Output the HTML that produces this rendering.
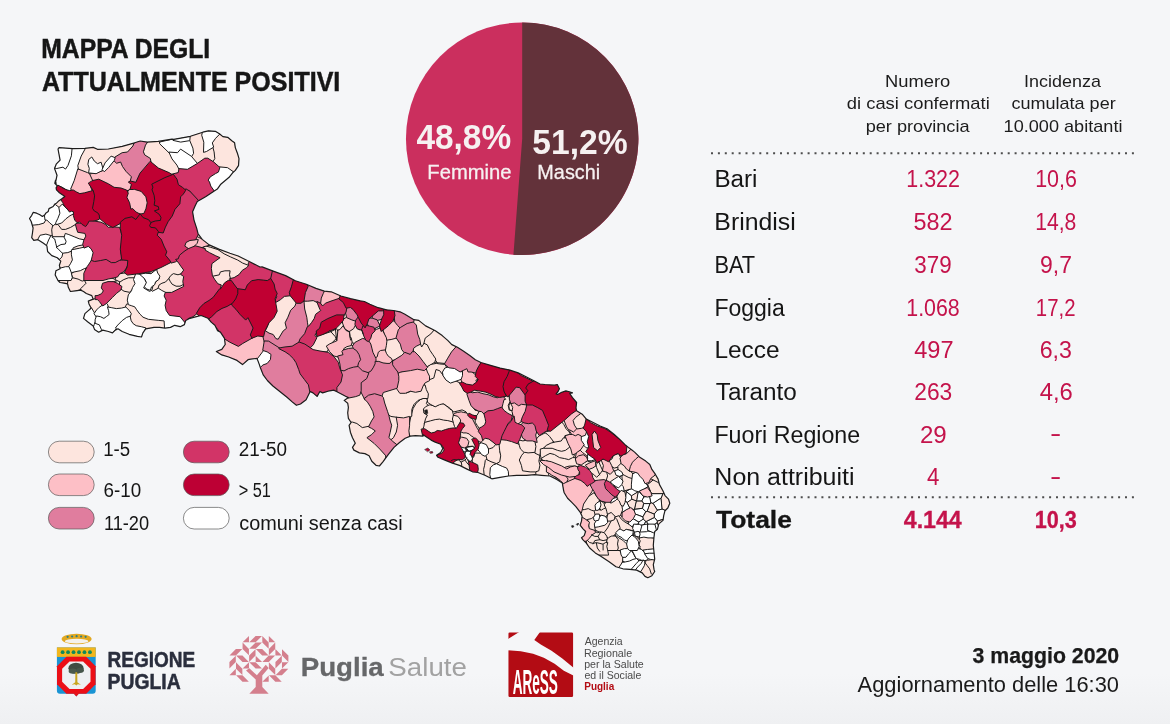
<!DOCTYPE html>
<html lang="it"><head><meta charset="utf-8"><title>Mappa degli attualmente positivi</title>
<style>
html,body{margin:0;padding:0;background:#f5f6f8;}
body{width:1170px;height:724px;overflow:hidden;font-family:"Liberation Sans",sans-serif;}
svg{display:block;font-family:"Liberation Sans",sans-serif;}
text{white-space:pre;}
</style></head><body>
<svg width="1170" height="724" viewBox="0 0 1170 724">
<defs><linearGradient id="bg" x1="0" y1="0" x2="0" y2="1"><stop offset="0" stop-color="#f5f6f8"/><stop offset="0.93" stop-color="#f5f6f8"/><stop offset="1" stop-color="#eff0f2"/></linearGradient></defs>
<rect width="1170" height="724" fill="url(#bg)"/>
<g id="mappa">
<g id="map" stroke-linejoin="round" stroke-linecap="round">
<clipPath id="coast"><path d="M59.1,147.6 L72.5,148.6 L84.9,148.3 L93.2,147.4 L97.4,149.3 L108.4,149.0 L122.2,146.3 L134.7,142.8 L140.2,141.0 L147.1,142.1 L158.2,141.4 L172.0,139.1 L173.8,139.3 L190.4,136.3 L202.8,132.2 L208.4,130.8 L215.3,131.3 L219.4,133.8 L222.9,136.6 L227.7,137.3 L231.8,140.7 L234.6,142.8 L235.3,147.6 L237.4,153.2 L239.0,158.7 L238.5,165.6 L235.3,170.4 L233.2,172.2 L229.1,177.3 L220.8,184.2 L217.3,189.1 L213.9,191.2 L205.6,196.7 L197.3,201.5 L195.3,205.6 L192.6,211.8 L194.0,220.1 L196.7,228.4 L198.1,233.9 L202.2,239.4 L209.2,244.9 L218.8,249.1 L229.9,253.2 L238.2,256.0 L249.2,261.5 L260.0,267.0 L262.1,266.9 L273.2,271.1 L285.6,275.6 L295.3,280.8 L306.3,284.2 L316.0,288.4 L324.3,291.1 L331.2,291.8 L340.9,296.0 L350.5,298.7 L360.2,300.8 L364.4,301.5 L369.9,304.2 L378.2,307.7 L386.5,309.8 L393.4,310.5 L400.0,311.8 L404.9,314.2 L413.9,319.7 L418.7,320.4 L425.6,325.9 L435.3,330.8 L442.2,335.6 L447.7,340.4 L451.8,344.6 L457.4,347.3 L462.9,350.8 L469.8,355.6 L475.3,359.8 L480.9,362.5 L490.5,365.3 L500.2,368.1 L509.9,370.1 L518.2,372.9 L526.5,377.0 L533.4,380.5 L540.0,384.0 L544.9,384.5 L554.5,385.2 L557.3,384.5 L559.4,388.7 L558.1,391.5 L556.1,393.9 L557.6,394.5 L561.7,392.3 L565.9,390.9 L568.4,391.5 L572.5,392.8 L569.7,393.5 L572.5,397.7 L576.6,402.5 L576.0,408.0 L576.6,410.8 L582.2,414.2 L586.3,419.1 L593.2,422.5 L600.1,426.0 L607.0,428.8 L614.0,434.3 L619.5,439.1 L625.7,445.3 L629.2,448.1 L631.9,450.0 L634.6,452.1 L639.4,456.9 L645.7,461.1 L649.8,464.5 L651.9,469.4 L655.3,474.2 L658.1,479.1 L659.5,484.6 L662.9,490.8 L665.0,495.6 L668.5,499.1 L669.8,503.2 L667.8,508.0 L665.0,510.7 L663.7,515.6 L663.0,520.4 L658.8,523.9 L657.4,529.4 L654.7,531.5 L654.0,537.0 L653.3,545.3 L654.0,552.2 L654.7,559.1 L653.3,564.6 L654.0,569.4 L654.7,571.5 L651.9,575.7 L647.8,577.7 L645.0,576.4 L642.2,572.9 L636.7,570.1 L629.8,569.4 L622.9,568.8 L616.0,566.7 L609.1,561.8 L600.8,556.3 L595.3,552.9 L589.7,548.0 L586.3,543.2 L582.8,539.7 L581.5,537.7 L584.2,535.6 L585.6,531.5 L582.8,528.7 L580.1,525.2 L581.5,521.1 L582.1,516.3 L580.1,512.1 L575.9,506.6 L571.8,502.4 L567.6,498.3 L564.2,492.8 L563.5,490.0 L562.3,482.9 L556.8,479.4 L549.9,476.0 L541.6,475.3 L534.7,474.6 L526.4,475.3 L516.7,475.3 L508.4,476.0 L500.1,477.4 L491.8,478.8 L484.9,475.3 L478.0,472.5 L472.5,471.8 L467.0,469.1 L460.1,465.6 L451.8,462.9 L444.9,460.1 L438.0,457.3 L436.6,455.3 L440.7,452.5 L442.8,448.4 L440.7,444.2 L435.2,442.1 L431.1,440.1 L426.9,437.3 L422.8,434.5 L423.0,436.1 L415.5,435.6 L410.4,436.1 L405.2,438.2 L399.5,442.5 L394.0,447.4 L388.4,454.3 L382.9,461.9 L379.4,466.0 L376.0,465.3 L371.8,461.2 L369.1,455.7 L364.9,453.6 L359.4,452.9 L353.9,450.1 L352.5,447.4 L355.3,443.2 L352.5,437.7 L350.4,432.2 L349.1,425.3 L351.1,422.5 L348.4,418.4 L347.7,412.8 L348.4,407.3 L347.7,403.2 L344.2,400.4 L348.4,397.6 L345.6,396.3 L336.5,391.5 L333.7,390.1 L329.6,390.8 L322.6,392.9 L319.9,391.5 L317.1,396.4 L313.0,392.9 L310.2,391.5 L308.8,394.3 L306.1,399.8 L300.5,404.0 L296.4,405.3 L292.2,401.9 L286.7,397.0 L279.8,391.5 L272.9,386.0 L267.4,380.5 L263.2,374.9 L260.5,368.0 L259.1,363.9 L257.0,358.4 L250.8,359.1 L248.0,359.7 L242.5,364.6 L237.0,360.4 L228.7,357.0 L221.8,354.9 L216.3,351.5 L221.8,349.4 L225.2,344.5 L224.5,338.3 L220.4,332.1 L217.6,330.7 L214.9,325.2 L211.4,322.4 L208.0,318.3 L201.1,315.5 L195.5,316.9 L190.0,318.3 L185.7,320.5 L184.4,324.6 L180.2,326.7 L174.7,325.3 L170.5,327.4 L165.0,328.1 L159.5,327.4 L154.0,327.4 L145.7,328.8 L142.9,332.9 L141.5,337.0 L137.4,336.4 L129.1,334.3 L122.2,331.5 L118.0,328.8 L115.3,330.1 L112.5,332.9 L108.4,331.5 L102.8,330.1 L98.7,332.2 L94.5,329.4 L93.2,326.0 L87.6,321.8 L83.5,318.4 L84.9,313.6 L89.7,309.4 L91.1,308.0 L89.0,303.9 L88.3,301.1 L93.2,299.1 L91.8,295.6 L86.3,293.5 L83.5,291.5 L80.7,290.1 L75.2,290.8 L70.4,291.5 L68.3,287.3 L67.6,283.9 L64.1,283.2 L60.0,282.5 L58.0,280.5 L55.2,274.9 L55.9,270.8 L60.1,268.7 L59.4,265.3 L60.8,261.1 L57.3,257.7 L51.8,255.6 L47.6,251.5 L46.9,245.9 L43.5,243.2 L38.0,239.7 L33.8,240.4 L31.7,237.6 L32.4,233.5 L33.1,228.0 L31.2,221.5 L29.5,218.5 L31.6,215.6 L33.3,212.3 L36.6,213.2 L39.9,214.8 L42.4,216.5 L44.9,214.8 L45.7,213.2 L48.2,211.5 L49.0,208.6 L53.2,206.5 L54.8,204.0 L56.5,203.2 L59.0,200.7 L61.5,199.1 L64.8,196.6 L63.1,195.3 L59.0,192.4 L56.5,189.9 L56.1,187.9 L57.3,185.8 L54.8,183.3 L55.6,180.0 L56.2,184.9 L55.6,182.2 L57.0,175.3 L54.5,168.4 L56.2,164.2 L60.1,160.1 L58.0,149.0Z"/></clipPath>
<path d="M59.1,147.6 L72.5,148.6 L84.9,148.3 L93.2,147.4 L97.4,149.3 L108.4,149.0 L122.2,146.3 L134.7,142.8 L140.2,141.0 L147.1,142.1 L158.2,141.4 L172.0,139.1 L173.8,139.3 L190.4,136.3 L202.8,132.2 L208.4,130.8 L215.3,131.3 L219.4,133.8 L222.9,136.6 L227.7,137.3 L231.8,140.7 L234.6,142.8 L235.3,147.6 L237.4,153.2 L239.0,158.7 L238.5,165.6 L235.3,170.4 L233.2,172.2 L229.1,177.3 L220.8,184.2 L217.3,189.1 L213.9,191.2 L205.6,196.7 L197.3,201.5 L195.3,205.6 L192.6,211.8 L194.0,220.1 L196.7,228.4 L198.1,233.9 L202.2,239.4 L209.2,244.9 L218.8,249.1 L229.9,253.2 L238.2,256.0 L249.2,261.5 L260.0,267.0 L262.1,266.9 L273.2,271.1 L285.6,275.6 L295.3,280.8 L306.3,284.2 L316.0,288.4 L324.3,291.1 L331.2,291.8 L340.9,296.0 L350.5,298.7 L360.2,300.8 L364.4,301.5 L369.9,304.2 L378.2,307.7 L386.5,309.8 L393.4,310.5 L400.0,311.8 L404.9,314.2 L413.9,319.7 L418.7,320.4 L425.6,325.9 L435.3,330.8 L442.2,335.6 L447.7,340.4 L451.8,344.6 L457.4,347.3 L462.9,350.8 L469.8,355.6 L475.3,359.8 L480.9,362.5 L490.5,365.3 L500.2,368.1 L509.9,370.1 L518.2,372.9 L526.5,377.0 L533.4,380.5 L540.0,384.0 L544.9,384.5 L554.5,385.2 L557.3,384.5 L559.4,388.7 L558.1,391.5 L556.1,393.9 L557.6,394.5 L561.7,392.3 L565.9,390.9 L568.4,391.5 L572.5,392.8 L569.7,393.5 L572.5,397.7 L576.6,402.5 L576.0,408.0 L576.6,410.8 L582.2,414.2 L586.3,419.1 L593.2,422.5 L600.1,426.0 L607.0,428.8 L614.0,434.3 L619.5,439.1 L625.7,445.3 L629.2,448.1 L631.9,450.0 L634.6,452.1 L639.4,456.9 L645.7,461.1 L649.8,464.5 L651.9,469.4 L655.3,474.2 L658.1,479.1 L659.5,484.6 L662.9,490.8 L665.0,495.6 L668.5,499.1 L669.8,503.2 L667.8,508.0 L665.0,510.7 L663.7,515.6 L663.0,520.4 L658.8,523.9 L657.4,529.4 L654.7,531.5 L654.0,537.0 L653.3,545.3 L654.0,552.2 L654.7,559.1 L653.3,564.6 L654.0,569.4 L654.7,571.5 L651.9,575.7 L647.8,577.7 L645.0,576.4 L642.2,572.9 L636.7,570.1 L629.8,569.4 L622.9,568.8 L616.0,566.7 L609.1,561.8 L600.8,556.3 L595.3,552.9 L589.7,548.0 L586.3,543.2 L582.8,539.7 L581.5,537.7 L584.2,535.6 L585.6,531.5 L582.8,528.7 L580.1,525.2 L581.5,521.1 L582.1,516.3 L580.1,512.1 L575.9,506.6 L571.8,502.4 L567.6,498.3 L564.2,492.8 L563.5,490.0 L562.3,482.9 L556.8,479.4 L549.9,476.0 L541.6,475.3 L534.7,474.6 L526.4,475.3 L516.7,475.3 L508.4,476.0 L500.1,477.4 L491.8,478.8 L484.9,475.3 L478.0,472.5 L472.5,471.8 L467.0,469.1 L460.1,465.6 L451.8,462.9 L444.9,460.1 L438.0,457.3 L436.6,455.3 L440.7,452.5 L442.8,448.4 L440.7,444.2 L435.2,442.1 L431.1,440.1 L426.9,437.3 L422.8,434.5 L423.0,436.1 L415.5,435.6 L410.4,436.1 L405.2,438.2 L399.5,442.5 L394.0,447.4 L388.4,454.3 L382.9,461.9 L379.4,466.0 L376.0,465.3 L371.8,461.2 L369.1,455.7 L364.9,453.6 L359.4,452.9 L353.9,450.1 L352.5,447.4 L355.3,443.2 L352.5,437.7 L350.4,432.2 L349.1,425.3 L351.1,422.5 L348.4,418.4 L347.7,412.8 L348.4,407.3 L347.7,403.2 L344.2,400.4 L348.4,397.6 L345.6,396.3 L336.5,391.5 L333.7,390.1 L329.6,390.8 L322.6,392.9 L319.9,391.5 L317.1,396.4 L313.0,392.9 L310.2,391.5 L308.8,394.3 L306.1,399.8 L300.5,404.0 L296.4,405.3 L292.2,401.9 L286.7,397.0 L279.8,391.5 L272.9,386.0 L267.4,380.5 L263.2,374.9 L260.5,368.0 L259.1,363.9 L257.0,358.4 L250.8,359.1 L248.0,359.7 L242.5,364.6 L237.0,360.4 L228.7,357.0 L221.8,354.9 L216.3,351.5 L221.8,349.4 L225.2,344.5 L224.5,338.3 L220.4,332.1 L217.6,330.7 L214.9,325.2 L211.4,322.4 L208.0,318.3 L201.1,315.5 L195.5,316.9 L190.0,318.3 L185.7,320.5 L184.4,324.6 L180.2,326.7 L174.7,325.3 L170.5,327.4 L165.0,328.1 L159.5,327.4 L154.0,327.4 L145.7,328.8 L142.9,332.9 L141.5,337.0 L137.4,336.4 L129.1,334.3 L122.2,331.5 L118.0,328.8 L115.3,330.1 L112.5,332.9 L108.4,331.5 L102.8,330.1 L98.7,332.2 L94.5,329.4 L93.2,326.0 L87.6,321.8 L83.5,318.4 L84.9,313.6 L89.7,309.4 L91.1,308.0 L89.0,303.9 L88.3,301.1 L93.2,299.1 L91.8,295.6 L86.3,293.5 L83.5,291.5 L80.7,290.1 L75.2,290.8 L70.4,291.5 L68.3,287.3 L67.6,283.9 L64.1,283.2 L60.0,282.5 L58.0,280.5 L55.2,274.9 L55.9,270.8 L60.1,268.7 L59.4,265.3 L60.8,261.1 L57.3,257.7 L51.8,255.6 L47.6,251.5 L46.9,245.9 L43.5,243.2 L38.0,239.7 L33.8,240.4 L31.7,237.6 L32.4,233.5 L33.1,228.0 L31.2,221.5 L29.5,218.5 L31.6,215.6 L33.3,212.3 L36.6,213.2 L39.9,214.8 L42.4,216.5 L44.9,214.8 L45.7,213.2 L48.2,211.5 L49.0,208.6 L53.2,206.5 L54.8,204.0 L56.5,203.2 L59.0,200.7 L61.5,199.1 L64.8,196.6 L63.1,195.3 L59.0,192.4 L56.5,189.9 L56.1,187.9 L57.3,185.8 L54.8,183.3 L55.6,180.0 L56.2,184.9 L55.6,182.2 L57.0,175.3 L54.5,168.4 L56.2,164.2 L60.1,160.1 L58.0,149.0Z" fill="#fde5de" stroke="none"/>
<g clip-path="url(#coast)">
<path d="M622.9,474.2 L624.0,470.0 L623.2,470.0 L620.8,475.5Z" fill="#ffffff" stroke="#1c1c1c" stroke-width="1.0"/>
<path d="M619.9,482.5 L623.8,482.9 L626.1,480.5 L622.9,474.2 L620.8,475.5 L618.6,480.4Z" fill="#ffffff" stroke="#1c1c1c" stroke-width="1.0"/>
<path d="M615.7,487.6 L619.9,482.5 L618.6,480.4 L616.6,484.9 L613.8,486.1Z" fill="#ffffff" stroke="#1c1c1c" stroke-width="1.0"/>
<path d="M616.9,492.3 L625.6,490.9 L623.8,482.9 L619.9,482.5 L615.7,487.6Z" fill="#ffffff" stroke="#1c1c1c" stroke-width="1.0"/>
<path d="M638.2,491.7 L638.8,490.8 L638.8,490.7 L633.4,486.9 L625.9,491.1 L626.1,491.4 L631.4,495.8Z" fill="#ffffff" stroke="#1c1c1c" stroke-width="1.0"/>
<path d="M631.8,499.2 L631.4,495.8 L626.1,491.4 L624.6,501.5 L627.3,502.4Z" fill="#ffffff" stroke="#1c1c1c" stroke-width="1.0"/>
<path d="M636.6,501.0 L636.7,501.1 L642.1,501.1 L644.2,496.8 L638.8,490.8 L638.2,491.7Z" fill="#ffffff" stroke="#1c1c1c" stroke-width="1.0"/>
<path d="M642.1,501.1 L643.6,503.6 L650.2,503.6 L651.2,502.9 L649.8,495.9 L644.2,496.8Z" fill="#ffffff" stroke="#1c1c1c" stroke-width="1.0"/>
<path d="M651.2,502.9 L653.2,503.6 L661.2,498.3 L663.0,493.6 L651.4,493.6 L649.8,495.9Z" fill="#ffffff" stroke="#1c1c1c" stroke-width="1.0"/>
<path d="M653.2,503.6 L657.3,510.2 L662.4,509.1 L661.2,498.3Z" fill="#ffffff" stroke="#1c1c1c" stroke-width="1.0"/>
<path d="M647.5,511.4 L650.2,503.6 L643.6,503.6 L642.4,508.3 L645.8,511.7Z" fill="#ffffff" stroke="#1c1c1c" stroke-width="1.0"/>
<path d="M634.0,510.0 L634.5,513.8 L642.9,516.9 L645.8,511.7 L642.4,508.3 L634.9,509.1Z" fill="#ffffff" stroke="#1c1c1c" stroke-width="1.0"/>
<path d="M624.6,501.5 L619.6,502.7 L619.0,503.6 L620.2,513.4 L630.4,508.6 L627.3,502.4Z" fill="#ffffff" stroke="#1c1c1c" stroke-width="1.0"/>
<path d="M619.6,502.7 L615.9,493.8 L603.4,496.6 L602.5,500.7 L607.2,504.9 L619.0,503.6Z" fill="#ffffff" stroke="#1c1c1c" stroke-width="1.0"/>
<path d="M654.2,514.1 L654.4,517.4 L657.4,521.1 L674.6,515.9 L674.6,514.0 L662.4,509.1 L657.3,510.2Z" fill="#ffffff" stroke="#1c1c1c" stroke-width="1.0"/>
<path d="M643.4,519.0 L642.9,516.9 L634.5,513.8 L632.3,518.2 L638.7,522.1Z" fill="#ffffff" stroke="#1c1c1c" stroke-width="1.0"/>
<path d="M638.7,522.1 L632.3,518.2 L628.2,521.5 L628.2,528.1 L638.5,523.9Z" fill="#ffffff" stroke="#1c1c1c" stroke-width="1.0"/>
<path d="M644.1,524.8 L645.9,521.2 L643.4,519.0 L638.7,522.1 L638.5,523.9 L640.0,526.5Z" fill="#ffffff" stroke="#1c1c1c" stroke-width="1.0"/>
<path d="M650.5,527.8 L650.6,527.2 L646.6,521.3 L645.9,521.2 L644.1,524.8 L645.3,529.5Z" fill="#ffffff" stroke="#1c1c1c" stroke-width="1.0"/>
<path d="M650.6,527.2 L657.3,522.7 L657.4,521.1 L654.4,517.4 L646.6,521.3Z" fill="#ffffff" stroke="#1c1c1c" stroke-width="1.0"/>
<path d="M651.4,529.7 L656.4,531.3 L658.9,530.1 L659.9,528.0 L657.3,522.7 L650.6,527.2 L650.5,527.8Z" fill="#ffffff" stroke="#1c1c1c" stroke-width="1.0"/>
<path d="M605.5,515.6 L604.1,515.6 L606.4,517.8Z" fill="#ffffff" stroke="#1c1c1c" stroke-width="1.0"/>
<path d="M638.8,490.7 L646.1,484.5 L636.1,475.6 L632.8,479.9 L633.4,486.9Z" fill="#ffffff" stroke="#1c1c1c" stroke-width="1.0"/>
<path d="M640.0,526.5 L638.5,523.9 L628.2,528.1 L628.2,528.1 L639.5,529.8Z" fill="#ffffff" stroke="#1c1c1c" stroke-width="1.0"/>
<path d="M645.3,529.5 L644.1,524.8 L640.0,526.5 L639.5,529.8 L639.7,530.0 L644.1,531.1Z" fill="#ffffff" stroke="#1c1c1c" stroke-width="1.0"/>
<path d="M639.7,530.0 L639.5,529.8 L628.2,528.1 L624.3,534.7 L624.9,536.3 L637.6,536.3Z" fill="#ffffff" stroke="#1c1c1c" stroke-width="1.0"/>
<path d="M639.7,530.0 L637.6,536.3 L643.3,536.3 L644.8,533.0 L644.1,531.1Z" fill="#ffffff" stroke="#1c1c1c" stroke-width="1.0"/>
<path d="M644.8,533.0 L649.7,534.7 L651.4,529.7 L650.5,527.8 L645.3,529.5 L644.1,531.1Z" fill="#ffffff" stroke="#1c1c1c" stroke-width="1.0"/>
<path d="M656.4,531.3 L651.4,529.7 L649.7,534.7 L650.6,536.3 L654.7,536.3Z" fill="#ffffff" stroke="#1c1c1c" stroke-width="1.0"/>
<path d="M658.9,530.1 L656.4,531.3 L654.7,536.3 L662.0,536.3Z" fill="#ffffff" stroke="#1c1c1c" stroke-width="1.0"/>
<path d="M643.3,536.3 L650.6,536.3 L649.7,534.7 L644.8,533.0Z" fill="#ffffff" stroke="#1c1c1c" stroke-width="1.0"/>
<path d="M633.4,486.9 L632.8,479.9 L626.1,480.5 L623.8,482.9 L625.6,490.9 L625.9,491.1Z" fill="#fde5de" stroke="#1c1c1c" stroke-width="1.0"/>
<path d="M626.1,491.4 L625.9,491.1 L625.6,490.9 L616.9,492.3 L615.9,493.8 L619.6,502.7 L624.6,501.5Z" fill="#fde5de" stroke="#1c1c1c" stroke-width="1.0"/>
<path d="M636.6,501.0 L638.2,491.7 L631.4,495.8 L631.8,499.2Z" fill="#fde5de" stroke="#1c1c1c" stroke-width="1.0"/>
<path d="M630.4,508.6 L634.0,510.0 L634.9,509.1 L636.7,501.1 L636.6,501.0 L631.8,499.2 L627.3,502.4Z" fill="#fde5de" stroke="#1c1c1c" stroke-width="1.0"/>
<path d="M634.9,509.1 L642.4,508.3 L643.6,503.6 L642.1,501.1 L636.7,501.1Z" fill="#fde5de" stroke="#1c1c1c" stroke-width="1.0"/>
<path d="M647.5,511.4 L654.2,514.1 L657.3,510.2 L653.2,503.6 L651.2,502.9 L650.2,503.6Z" fill="#fde5de" stroke="#1c1c1c" stroke-width="1.0"/>
<path d="M662.4,509.1 L674.6,514.0 L674.6,494.9 L668.1,490.0 L663.0,493.6 L661.2,498.3Z" fill="#fde5de" stroke="#1c1c1c" stroke-width="1.0"/>
<path d="M668.1,490.0 L658.0,482.4 L652.8,479.8 L647.4,484.4 L651.4,493.6 L663.0,493.6Z" fill="#fde5de" stroke="#1c1c1c" stroke-width="1.0"/>
<path d="M645.9,521.2 L646.6,521.3 L654.4,517.4 L654.2,514.1 L647.5,511.4 L645.8,511.7 L642.9,516.9 L643.4,519.0Z" fill="#fde5de" stroke="#1c1c1c" stroke-width="1.0"/>
<path d="M607.2,504.9 L609.2,511.4 L617.9,515.4 L619.7,514.6 L620.2,513.4 L619.0,503.6Z" fill="#fde5de" stroke="#1c1c1c" stroke-width="1.0"/>
<path d="M605.5,515.6 L606.4,517.8 L612.4,523.9 L613.3,523.9 L617.9,515.4 L609.2,511.4Z" fill="#fde5de" stroke="#1c1c1c" stroke-width="1.0"/>
<path d="M628.2,528.1 L628.2,528.1 L628.2,521.5 L619.7,514.6 L617.9,515.4 L613.3,523.9 L620.7,523.9 L624.3,534.7Z" fill="#fde5de" stroke="#1c1c1c" stroke-width="1.0"/>
<path d="M605.5,515.6 L609.2,511.4 L607.2,504.9 L602.5,500.7 L600.0,511.5 L604.1,515.6Z" fill="#fde5de" stroke="#1c1c1c" stroke-width="1.0"/>
<path d="M632.8,479.9 L636.1,475.6 L636.3,471.6 L633.2,470.0 L624.0,470.0 L622.9,474.2 L626.1,480.5Z" fill="#fde5de" stroke="#1c1c1c" stroke-width="1.0"/>
<path d="M659.9,528.0 L674.6,528.0 L674.6,515.9 L657.4,521.1 L657.3,522.7Z" fill="#fde5de" stroke="#1c1c1c" stroke-width="1.0"/>
<path d="M659.9,528.0 L658.9,530.1 L662.0,536.3 L674.6,536.3 L674.6,528.0Z" fill="#fde5de" stroke="#1c1c1c" stroke-width="1.0"/>
<path d="M644.2,496.8 L649.8,495.9 L651.4,493.6 L647.4,484.4 L646.1,484.5 L638.8,490.7 L638.8,490.8Z" fill="#fdbfc6" stroke="#1c1c1c" stroke-width="1.0"/>
<path d="M630.4,508.6 L620.2,513.4 L619.7,514.6 L628.2,521.5 L632.3,518.2 L634.5,513.8 L634.0,510.0Z" fill="#fdbfc6" stroke="#1c1c1c" stroke-width="1.0"/>
<path d="M652.8,479.8 L636.3,471.6 L636.1,475.6 L646.1,484.5 L647.4,484.4Z" fill="#fdbfc6" stroke="#1c1c1c" stroke-width="1.0"/>
<path d="M615.9,493.8 L616.9,492.3 L615.7,487.6 L613.8,486.1 L605.0,489.9 L603.4,496.6Z" fill="#d23467" stroke="#1c1c1c" stroke-width="1.0"/>
<path d="M84.7,147.9 L80.4,155.7 L76.9,165.6 L77.6,170.1 L87.5,173.6 L90.4,175.1 L96.1,173.6 L103.1,171.5 L108.7,167.3 L114.3,160.3 L115.7,157.6 L122.4,153.6 L128.0,152.9 L133.7,146.5 L135.4,142.2 L135.3,142.2 L122.1,145.8 L108.4,148.6 L97.5,148.8 L93.3,146.9Z" fill="#fde5de" stroke="#1c1c1c" stroke-width="1.0"/>
<path d="M146.9,141.7 L144.6,144.7 L142.5,151.8 L144.0,155.5 L149.5,159.0 L150.2,162.4 L157.9,168.7 L169.1,173.6 L174.8,175.0 L180.4,172.8 L180.4,169.6 L176.5,162.6 L169.6,152.9 L161.3,143.9 L158.3,141.0Z" fill="#fde5de" stroke="#1c1c1c" stroke-width="1.0"/>
<path d="M190.0,136.0 L188.8,140.8 L192.0,148.4 L192.7,153.1 L190.5,156.7 L197.2,164.5 L205.0,159.1 L207.5,159.1 L213.3,162.8 L215.7,158.8 L215.0,151.7 L213.5,146.3 L206.1,150.7 L204.4,151.2 L204.7,142.0 L202.6,135.2 L203.4,131.5 L203.4,131.5Z" fill="#fde5de" stroke="#1c1c1c" stroke-width="1.0"/>
<path d="M219.4,133.2 L214.9,137.7 L211.3,142.7 L212.8,147.1 L214.1,151.9 L214.8,158.6 L212.6,162.2 L219.2,168.1 L227.5,168.8 L233.3,172.8 L235.6,170.7 L238.9,165.7 L239.5,158.6 L237.8,153.0 L235.7,147.5 L235.0,142.5 L232.1,140.4 L227.9,136.8 L223.1,136.2Z" fill="#fde5de" stroke="#1c1c1c" stroke-width="1.0"/>
<path d="M265.2,331.6 L268.6,333.9 L272.6,335.2 L275.4,339.4 L278.6,340.2 L283.9,331.5 L287.5,328.6 L286.1,323.0 L288.8,317.6 L291.5,310.7 L295.7,306.6 L297.2,302.8 L290.6,294.8 L287.6,294.8 L282.6,295.5 L278.4,300.4 L274.0,301.9 L275.5,309.0 L272.8,314.4 L269.3,321.3 L267.2,326.9Z" fill="#fde5de" stroke="#1c1c1c" stroke-width="1.0"/>
<path d="M303.1,300.3 L303.8,309.2 L305.9,317.5 L306.6,323.0 L307.4,327.7 L309.4,326.7 L312.2,323.2 L315.0,319.0 L316.4,314.9 L322.2,310.5 L320.5,308.8 L317.7,301.9 L313.3,299.6 L307.7,300.3Z" fill="#fde5de" stroke="#1c1c1c" stroke-width="1.0"/>
<path d="M413.5,318.5 L412.7,322.6 L415.5,325.4 L416.9,334.3 L418.9,339.9 L419.6,344.0 L421.3,348.9 L421.4,348.9 L424.6,344.1 L426.0,338.6 L431.4,334.5 L435.3,329.9 L425.8,324.9 L418.9,319.3Z" fill="#fde5de" stroke="#1c1c1c" stroke-width="1.0"/>
<path d="M434.5,329.5 L430.8,333.9 L425.2,338.1 L423.7,344.1 L426.6,345.6 L429.4,351.0 L432.1,355.2 L434.9,359.3 L437.8,363.7 L445.2,364.4 L448.1,359.3 L452.2,352.4 L457.4,346.5 L452.1,343.5 L448.0,339.4 L442.4,334.5Z" fill="#fde5de" stroke="#1c1c1c" stroke-width="1.0"/>
<path d="M412.6,347.9 L414.1,352.4 L418.3,356.6 L422.5,362.1 L426.8,367.9 L431.4,365.7 L434.3,363.5 L435.8,359.0 L432.9,354.7 L430.1,350.6 L427.3,344.9 L424.1,343.3 L421.6,347.0 L420.3,343.3 L415.7,345.6Z" fill="#fde5de" stroke="#1c1c1c" stroke-width="1.0"/>
<path d="M385.1,340.9 L385.1,348.1 L385.8,355.1 L389.5,361.0 L396.7,359.5 L402.4,356.0 L405.5,352.9 L402.5,349.2 L401.1,343.7 L398.3,339.5 L396.8,337.2 L391.0,338.6 L386.7,339.3Z" fill="#fde5de" stroke="#1c1c1c" stroke-width="1.0"/>
<path d="M426.7,367.0 L423.7,370.0 L426.6,375.8 L428.0,380.3 L432.6,380.3 L437.0,378.8 L438.4,373.3 L443.1,372.6 L445.4,368.9 L445.4,363.5 L438.1,362.8 L433.7,362.8 L430.9,364.9Z" fill="#fde5de" stroke="#1c1c1c" stroke-width="1.0"/>
<path d="M504.6,398.6 L501.6,404.5 L502.4,408.9 L507.4,414.7 L513.7,414.7 L512.9,411.1 L509.4,409.7 L508.8,406.0 L510.2,401.7 L507.9,398.6Z" fill="#fde5de" stroke="#1c1c1c" stroke-width="1.0"/>
<path d="M575.0,416.7 L572.1,420.3 L573.5,425.5 L576.5,429.9 L581.8,429.1 L585.4,425.5 L586.9,419.7 L584.0,415.3 L580.9,412.2Z" fill="#fde5de" stroke="#1c1c1c" stroke-width="1.0"/>
<path d="M409.9,436.2 L409.9,439.2 L422.7,438.1 L423.3,434.5 L422.3,430.2 L423.7,429.7 L424.8,426.4 L425.3,423.3 L426.3,419.2 L428.6,414.7 L424.8,412.5 L424.3,409.3 L426.2,407.5 L429.8,405.7 L427.5,403.3 L428.5,400.4 L427.2,396.7 L420.5,399.5 L416.2,403.2 L413.1,408.5 L411.0,415.8 L409.9,421.0 L408.9,426.2 L408.4,431.5Z" fill="#fde5de" stroke="#1c1c1c" stroke-width="1.0"/>
<path d="M426.5,397.5 L427.5,400.4 L426.4,403.6 L428.8,406.0 L431.0,406.0 L435.3,407.0 L438.6,405.9 L440.5,404.0 L443.3,404.9 L446.3,406.9 L449.5,410.1 L452.7,411.1 L454.9,412.2 L458.2,411.2 L462.3,410.1 L466.2,409.2 L468.0,411.0 L469.1,414.2 L472.4,415.8 L477.0,416.4 L479.3,410.5 L474.9,408.3 L471.9,405.3 L469.9,400.2 L467.8,393.9 L463.4,389.6 L423.3,389.6 L424.5,394.3Z" fill="#fde5de" stroke="#1c1c1c" stroke-width="1.0"/>
<path d="M428.9,405.1 L425.6,406.7 L423.4,409.0 L423.9,413.1 L427.4,415.0 L425.5,418.9 L424.2,423.8 L424.6,424.1 L426.1,422.5 L431.2,421.5 L435.3,420.5 L439.4,420.0 L443.4,421.0 L447.6,421.5 L451.7,422.5 L454.4,423.9 L454.5,423.8 L453.3,419.0 L454.3,414.9 L453.2,410.4 L450.0,409.3 L446.9,406.2 L443.7,404.1 L440.3,403.0 L438.1,405.2 L435.2,406.1 L431.1,405.1Z" fill="#fde5de" stroke="#1c1c1c" stroke-width="1.0"/>
<path d="M424.5,422.8 L423.9,426.2 L422.7,429.8 L424.7,429.8 L427.7,431.8 L431.0,434.0 L435.4,432.9 L437.4,431.4 L441.5,431.9 L445.7,430.3 L449.8,429.3 L453.9,428.8 L457.2,429.5 L457.3,429.3 L455.3,426.1 L454.3,422.8 L452.0,421.7 L447.8,420.6 L443.6,420.1 L439.4,419.1 L435.2,419.6 L431.0,420.7Z" fill="#fde5de" stroke="#1c1c1c" stroke-width="1.0"/>
<path d="M453.6,414.3 L452.4,419.0 L453.5,423.3 L454.5,426.5 L456.5,429.7 L458.4,426.5 L460.5,423.4 L461.6,421.1 L461.0,418.8 L458.3,415.5Z" fill="#fde5de" stroke="#1c1c1c" stroke-width="1.0"/>
<path d="M452.4,410.0 L452.2,410.1 L453.6,415.7 L453.7,415.7 L455.2,414.2 L458.1,413.2 L461.1,412.7 L463.1,413.2 L466.1,413.7 L468.5,416.1 L469.9,413.9 L468.8,410.5 L466.5,408.2 L462.1,409.3 L457.9,410.3 L455.0,411.3Z" fill="#fde5de" stroke="#1c1c1c" stroke-width="1.0"/>
<path d="M476.3,415.7 L475.8,416.2 L475.2,419.0 L475.2,422.3 L477.3,425.5 L479.6,428.9 L482.1,427.7 L485.4,425.5 L486.5,422.2 L485.9,417.9 L484.9,413.6 L482.1,410.8 L478.5,410.2Z" fill="#fde5de" stroke="#1c1c1c" stroke-width="1.0"/>
<path d="M480.2,441.8 L481.6,443.7 L485.7,445.3 L487.8,449.5 L490.2,449.5 L493.5,448.4 L497.0,444.4 L493.5,441.5 L489.3,438.3 L484.8,437.2Z" fill="#fde5de" stroke="#1c1c1c" stroke-width="1.0"/>
<path d="M487.6,448.6 L487.6,453.0 L484.1,456.0 L484.1,456.1 L485.2,456.3 L486.2,460.4 L490.6,462.5 L496.5,464.7 L500.5,462.4 L501.6,455.8 L500.0,452.1 L501.0,448.0 L499.8,443.4 L496.1,444.0 L493.0,447.6 L490.1,448.6Z" fill="#fde5de" stroke="#1c1c1c" stroke-width="1.0"/>
<path d="M499.0,443.9 L499.7,450.8 L500.7,455.9 L499.7,461.8 L495.6,464.2 L495.6,464.3 L502.0,467.2 L506.0,468.7 L507.4,471.6 L508.0,479.8 L514.7,478.1 L522.9,477.6 L535.8,478.1 L535.8,471.0 L530.2,471.0 L523.3,470.0 L522.3,465.1 L520.3,460.1 L522.2,456.2 L525.6,452.8 L521.2,448.4 L520.2,445.3 L517.0,443.1 L514.2,440.4 L508.9,439.3 L503.6,438.2 L500.1,439.4Z" fill="#fde5de" stroke="#1c1c1c" stroke-width="1.0"/>
<path d="M474.9,453.4 L473.8,456.7 L471.6,458.9 L472.8,463.5 L476.9,465.5 L477.4,469.4 L475.7,475.9 L486.2,479.4 L486.2,479.4 L485.0,474.5 L484.5,469.4 L485.5,465.3 L486.0,461.3 L487.1,460.2 L486.0,455.6 L482.6,453.4Z" fill="#fde5de" stroke="#1c1c1c" stroke-width="1.0"/>
<path d="M466.4,432.0 L463.3,432.0 L459.7,430.8 L459.7,435.5 L458.4,440.4 L458.7,440.6 L462.3,438.2 L466.0,439.1 L467.9,441.9 L467.0,445.6 L463.4,447.4 L465.8,449.2 L464.7,451.3 L466.2,452.1 L470.5,451.6 L471.6,451.6 L475.0,449.4 L476.1,445.9 L474.5,442.6 L473.2,440.0 L476.5,438.9 L473.8,436.3 L471.8,435.2 L469.7,433.1Z" fill="#fde5de" stroke="#1c1c1c" stroke-width="1.0"/>
<path d="M209.1,244.5 L202.7,246.1 L202.7,246.6 L210.4,248.1 L217.5,250.4 L223.7,254.5 L229.9,257.7 L237.2,260.8 L242.3,263.9 L247.5,266.0 L248.7,266.5 L259.0,263.7 L259.0,263.5 L249.9,258.0 L250.2,257.4 L238.3,251.4 L230.0,248.7 L218.9,244.5Z" fill="#fde5de" stroke="#1c1c1c" stroke-width="1.0"/>
<path d="M202.9,245.7 L202.9,245.8 L204.5,249.0 L203.5,250.1 L209.2,253.5 L215.4,256.6 L218.3,257.9 L215.3,260.0 L211.0,263.2 L210.5,268.7 L211.5,276.1 L212.3,276.9 L220.1,275.3 L221.1,272.7 L225.0,271.7 L229.1,271.7 L228.6,274.9 L229.8,279.6 L234.4,278.4 L239.7,275.2 L242.8,271.1 L247.0,268.5 L249.5,265.9 L247.9,265.1 L242.7,263.1 L237.6,260.0 L230.3,256.8 L224.1,253.8 L217.9,249.6 L210.6,247.3Z" fill="#fde5de" stroke="#1c1c1c" stroke-width="1.0"/>
<path d="M212.6,275.9 L211.7,275.0 L211.1,275.4 L214.2,280.3 L217.4,284.6 L220.2,285.5 L219.2,289.8 L221.0,289.8 L225.2,283.5 L228.3,281.4 L230.6,279.2 L229.5,274.8 L230.1,270.8 L224.9,270.8 L220.4,271.9 L219.4,274.5Z" fill="#fde5de" stroke="#1c1c1c" stroke-width="1.0"/>
<path d="M312.6,344.3 L309.6,347.3 L312.7,350.5 L319.8,351.9 L327.1,351.9 L329.9,346.2 L332.7,342.1 L336.9,337.9 L338.3,332.1 L336.7,328.7 L330.8,331.7 L322.5,334.4 L316.0,335.9 L316.0,337.5Z" fill="#fde5de" stroke="#1c1c1c" stroke-width="1.0"/>
<path d="M348.7,332.2 L349.3,338.4 L350.4,338.4 L351.4,342.5 L354.9,343.6 L363.2,339.5 L366.9,340.7 L367.0,340.6 L364.6,335.7 L363.6,331.6 L362.4,329.2 L359.2,329.7 L356.8,327.4 L355.6,325.0 L350.4,327.3Z" fill="#fde5de" stroke="#1c1c1c" stroke-width="1.0"/>
<path d="M343.0,351.0 L348.7,349.3 L354.5,348.7 L353.1,345.9 L350.8,344.8 L346.4,345.9 L343.0,348.1Z" fill="#fde5de" stroke="#1c1c1c" stroke-width="1.0"/>
<path d="M425.4,368.9 L426.5,372.3 L428.6,376.4 L429.8,380.5 L434.6,378.7 L435.7,374.3 L436.6,370.6 L439.1,371.5 L442.6,376.1 L442.7,376.1 L443.9,371.3 L447.2,368.0 L444.8,364.4 L439.4,363.9 L436.3,363.4 L430.9,364.4 L427.7,366.6Z" fill="#fde5de" stroke="#1c1c1c" stroke-width="1.0"/>
<path d="M428.8,380.0 L424.4,382.2 L424.4,385.7 L425.5,389.9 L427.5,394.0 L427.0,398.0 L427.6,402.4 L430.9,404.6 L435.2,406.8 L439.5,404.7 L443.4,403.7 L446.4,405.7 L450.5,408.7 L453.7,412.0 L458.1,410.9 L462.1,409.9 L466.0,411.8 L468.1,415.5 L476.9,415.5 L479.4,411.2 L474.9,410.1 L472.9,407.1 L470.9,403.0 L468.8,397.9 L467.8,392.6 L464.6,390.5 L462.6,386.4 L460.4,383.2 L456.1,381.0 L453.8,381.0 L449.8,382.0 L446.9,380.1 L444.9,378.1 L442.9,375.0 L439.7,370.7 L436.0,369.5 L434.8,374.1 L433.8,378.0 L429.9,379.5Z" fill="#fde5de" stroke="#1c1c1c" stroke-width="1.0"/>
<path d="M503.2,397.8 L501.6,402.1 L501.1,407.4 L503.3,411.8 L507.6,415.5 L512.3,415.5 L513.5,411.2 L509.2,410.1 L508.2,405.3 L510.3,401.2 L509.2,396.6 L505.6,395.4Z" fill="#fde5de" stroke="#1c1c1c" stroke-width="1.0"/>
<path d="M382.5,391.7 L381.0,396.4 L382.5,397.9 L383.9,403.3 L386.6,411.6 L388.1,415.9 L391.1,417.4 L396.7,418.1 L403.7,418.8 L409.3,417.4 L411.8,416.2 L411.8,409.5 L413.9,404.5 L417.9,400.5 L422.9,398.5 L427.9,398.5 L428.4,393.8 L426.3,389.6 L425.2,385.1 L422.5,385.1 L420.3,390.6 L419.9,391.6 L413.3,390.3 L406.4,393.0 L401.1,390.3 L396.8,387.5Z" fill="#fde5de" stroke="#1c1c1c" stroke-width="1.0"/>
<path d="M345.5,395.7 L340.8,400.4 L343.8,403.4 L345.1,407.3 L343.8,412.8 L345.2,418.6 L351.0,423.0 L352.4,423.0 L356.4,424.3 L362.1,428.5 L369.4,427.0 L372.2,421.3 L375.1,417.1 L373.7,411.3 L370.9,405.7 L368.1,401.5 L365.3,398.7 L360.8,389.8 L360.6,389.8 L359.1,394.5 L355.2,395.8 L348.4,397.2Z" fill="#fde5de" stroke="#1c1c1c" stroke-width="1.0"/>
<path d="M346.5,425.0 L347.9,447.5 L354.9,456.0 L368.9,470.0 L383.3,467.1 L386.2,454.8 L380.5,448.4 L374.9,442.9 L368.5,437.7 L372.1,435.3 L376.7,430.7 L372.1,427.6 L369.1,426.2 L362.3,427.6 L356.9,423.5 L352.6,422.1 L351.0,422.1Z" fill="#fde5de" stroke="#1c1c1c" stroke-width="1.0"/>
<path d="M387.9,414.8 L387.8,414.9 L389.4,421.2 L390.7,425.3 L389.4,432.1 L387.9,437.8 L391.2,441.1 L394.3,438.0 L397.1,432.3 L398.6,425.3 L397.1,417.3 L391.3,416.5Z" fill="#fde5de" stroke="#1c1c1c" stroke-width="1.0"/>
<path d="M485.2,460.9 L484.6,465.2 L483.6,469.3 L484.1,474.6 L485.2,479.1 L492.4,481.5 L492.4,481.4 L490.7,474.5 L491.2,468.5 L494.1,465.6 L497.4,464.3 L497.4,464.0 L491.0,461.7 L486.5,459.5Z" fill="#fde5de" stroke="#1c1c1c" stroke-width="1.0"/>
<path d="M519.4,445.7 L520.4,448.9 L524.8,453.2 L528.1,453.8 L535.7,453.2 L536.8,446.6 L535.7,441.0 L528.1,439.9 L522.9,440.9 L518.2,439.8Z" fill="#fde5de" stroke="#1c1c1c" stroke-width="1.0"/>
<path d="M521.5,455.6 L519.3,460.0 L521.4,465.4 L522.5,470.8 L530.1,471.9 L535.4,471.9 L538.8,470.8 L539.9,465.2 L538.9,461.1 L540.0,454.6 L535.4,452.3 L528.1,452.9 L524.8,452.3Z" fill="#fde5de" stroke="#1c1c1c" stroke-width="1.0"/>
<path d="M534.9,441.3 L535.9,446.6 L534.8,453.1 L539.8,455.5 L540.9,451.0 L543.9,448.0 L548.0,444.9 L553.5,442.7 L551.3,435.9 L545.7,432.6 L539.2,435.9Z" fill="#fde5de" stroke="#1c1c1c" stroke-width="1.0"/>
<path d="M548.5,473.1 L548.4,473.2 L549.6,479.3 L556.0,483.6 L562.7,485.8 L564.0,483.1 L562.7,481.8 L558.5,479.7 L553.4,475.5Z" fill="#fde5de" stroke="#1c1c1c" stroke-width="1.0"/>
<path d="M603.4,535.1 L603.1,535.7 L607.7,538.5 L607.0,541.5 L606.1,545.6 L605.3,548.9 L602.9,552.9 L597.6,556.4 L600.5,560.2 L606.3,563.5 L611.3,566.8 L619.3,570.4 L621.9,563.3 L623.6,558.1 L619.4,549.6 L617.9,547.3 L619.5,543.2 L617.8,539.7 L615.1,535.2 L609.1,537.0Z" fill="#fde5de" stroke="#1c1c1c" stroke-width="1.0"/>
<path d="M614.3,535.1 L614.1,535.3 L617.0,540.1 L618.5,543.3 L616.9,547.4 L618.8,550.3 L620.7,550.3 L625.0,549.5 L628.7,547.6 L626.9,543.0 L623.4,539.6 L619.2,537.0Z" fill="#fde5de" stroke="#1c1c1c" stroke-width="1.0"/>
<path d="M603.4,536.0 L609.1,537.9 L615.1,536.2 L621.2,530.1 L619.3,524.5 L611.3,524.5 L609.5,528.1 L606.2,532.2Z" fill="#fde5de" stroke="#1c1c1c" stroke-width="1.0"/>
<path d="M639.3,537.1 L639.3,541.5 L638.4,546.7 L641.1,549.4 L643.8,551.2 L648.1,550.3 L656.8,549.4 L656.8,538.7 L643.9,536.1Z" fill="#fde5de" stroke="#1c1c1c" stroke-width="1.0"/>
<path d="M633.8,535.1 L632.6,537.4 L633.6,539.4 L636.1,541.9 L639.2,543.9 L640.3,540.6 L636.7,537.1Z" fill="#fde5de" stroke="#1c1c1c" stroke-width="1.0"/>
<path d="M644.3,562.0 L643.5,565.4 L641.0,569.5 L638.3,573.2 L642.8,576.8 L647.1,580.2 L656.8,578.4 L656.8,564.7 L654.1,559.3 L647.9,560.2Z" fill="#fde5de" stroke="#1c1c1c" stroke-width="1.0"/>
<path d="M580.8,509.4 L584.8,510.4 L588.1,509.5 L591.3,511.1 L594.9,512.1 L596.5,510.0 L596.1,505.9 L597.6,503.6 L600.3,501.8 L599.3,499.7 L596.8,496.4 L594.0,492.7 L588.7,496.3 L586.1,498.9Z" fill="#fde5de" stroke="#1c1c1c" stroke-width="1.0"/>
<path d="M579.2,510.4 L580.7,514.2 L582.0,518.5 L585.5,520.3 L588.2,520.3 L591.6,519.4 L594.3,517.7 L596.1,515.0 L595.1,511.2 L591.6,510.3 L588.2,508.6 L584.7,509.5Z" fill="#fde5de" stroke="#1c1c1c" stroke-width="1.0"/>
<path d="M599.1,500.9 L599.1,501.0 L600.1,504.9 L599.3,507.4 L601.2,511.4 L604.1,509.5 L607.0,508.5 L605.1,504.7 L602.5,502.0Z" fill="#fde5de" stroke="#1c1c1c" stroke-width="1.0"/>
<path d="M595.8,509.4 L594.3,511.5 L595.2,515.3 L598.8,515.3 L601.3,516.1 L604.8,517.0 L607.7,515.1 L607.7,511.5 L606.7,507.7 L603.7,508.7 L601.3,510.2 L598.1,509.4Z" fill="#fde5de" stroke="#1c1c1c" stroke-width="1.0"/>
<path d="M588.5,522.3 L587.7,525.6 L588.6,529.3 L594.0,531.1 L596.1,530.1 L595.6,526.8 L595.2,524.1 L597.0,520.9 L594.8,519.6 L594.3,516.6 L591.3,518.6 L587.6,519.5Z" fill="#fde5de" stroke="#1c1c1c" stroke-width="1.0"/>
<path d="M607.0,500.2 L604.2,504.9 L605.9,508.4 L606.8,511.7 L607.7,515.5 L611.3,513.8 L615.4,517.9 L619.1,516.9 L620.9,514.3 L622.6,509.9 L621.7,504.8 L620.0,500.5 L617.2,497.7 L615.2,499.6 L611.3,501.9Z" fill="#fde5de" stroke="#1c1c1c" stroke-width="1.0"/>
<path d="M616.6,498.4 L619.3,501.0 L620.9,505.2 L623.2,506.4 L625.0,502.6 L625.9,497.5 L625.0,492.2 L621.2,490.3 L618.4,493.1Z" fill="#fde5de" stroke="#1c1c1c" stroke-width="1.0"/>
<path d="M607.6,514.6 L606.7,519.0 L607.7,522.0 L611.5,522.0 L615.0,520.2 L616.0,517.2 L611.4,512.7Z" fill="#fde5de" stroke="#1c1c1c" stroke-width="1.0"/>
<path d="M598.0,526.0 L594.7,526.5 L595.2,530.1 L597.1,531.0 L600.4,532.7 L604.0,533.6 L605.9,531.7 L608.4,528.4 L612.1,521.1 L607.8,521.1 L604.5,524.4Z" fill="#fde5de" stroke="#1c1c1c" stroke-width="1.0"/>
<path d="M611.0,521.2 L607.6,527.9 L605.2,531.2 L603.3,533.1 L606.1,536.8 L608.8,538.6 L612.4,536.8 L616.6,533.4 L620.0,530.0 L620.9,527.3 L617.5,518.8 L615.3,516.5 L614.3,519.5Z" fill="#fde5de" stroke="#1c1c1c" stroke-width="1.0"/>
<path d="M614.6,517.1 L614.6,517.1 L616.8,519.3 L620.0,527.4 L620.0,530.1 L623.8,532.0 L626.4,530.3 L629.6,531.1 L634.4,530.1 L633.3,527.8 L629.0,524.4 L624.9,522.0 L621.6,519.5 L619.0,516.0Z" fill="#fde5de" stroke="#1c1c1c" stroke-width="1.0"/>
<path d="M595.1,531.8 L591.1,534.4 L588.6,537.8 L585.8,540.6 L589.6,543.5 L593.1,544.3 L596.4,543.5 L599.6,544.3 L603.1,545.2 L605.9,543.4 L607.7,539.8 L606.8,536.2 L604.2,532.7 L600.6,531.8 L598.1,532.6Z" fill="#fde5de" stroke="#1c1c1c" stroke-width="1.0"/>
<path d="M608.6,537.7 L606.8,539.6 L606.8,543.0 L605.9,546.4 L606.8,550.5 L618.3,550.5 L619.3,548.1 L618.4,543.9 L619.3,539.6 L616.5,536.0 L612.1,536.0Z" fill="#fde5de" stroke="#1c1c1c" stroke-width="1.0"/>
<path d="M615.6,536.2 L618.3,539.8 L617.5,543.9 L618.3,548.0 L617.3,550.5 L627.4,550.5 L628.4,548.1 L627.5,543.7 L625.0,539.5 L622.4,536.9 L618.8,535.1Z" fill="#fde5de" stroke="#1c1c1c" stroke-width="1.0"/>
<path d="M586.1,539.7 L585.9,539.9 L587.7,548.2 L591.2,555.1 L608.6,555.1 L607.6,549.9 L606.8,546.4 L607.8,542.6 L605.4,542.6 L603.0,544.2 L599.9,543.4 L596.4,542.6 L593.1,543.4 L590.0,542.6Z" fill="#fde5de" stroke="#1c1c1c" stroke-width="1.0"/>
<path d="M65.3,218.1 L61.2,222.2 L55.4,224.0 L55.4,224.1 L58.0,226.0 L61.2,230.3 L65.7,230.3 L71.0,228.2 L76.3,225.0 L77.5,222.7 L76.4,218.3 L74.1,212.7 L69.5,215.0Z" fill="#fde5de" stroke="#1c1c1c" stroke-width="1.0"/>
<path d="M32.1,224.3 L29.9,231.8 L28.8,237.3 L33.3,241.7 L37.9,241.7 L41.0,236.0 L45.9,235.0 L51.2,236.6 L53.1,235.3 L52.6,229.9 L53.7,225.0 L50.4,222.3 L47.1,219.1 L45.1,219.1 L43.5,222.2 L38.6,223.7Z" fill="#fde5de" stroke="#1c1c1c" stroke-width="1.0"/>
<path d="M52.8,224.9 L51.7,229.8 L52.2,235.1 L52.8,237.6 L64.9,237.6 L65.9,234.6 L68.5,235.5 L73.7,237.5 L78.9,239.6 L84.5,240.7 L86.8,236.1 L85.6,232.6 L78.4,231.5 L77.4,228.7 L76.2,224.0 L70.6,227.4 L65.5,229.4 L61.7,229.4 L58.7,225.4 L56.4,223.7Z" fill="#fde5de" stroke="#1c1c1c" stroke-width="1.0"/>
<path d="M71.1,251.2 L71.2,251.2 L80.2,249.0 L84.8,247.8 L83.5,243.9 L77.9,245.0 L72.5,247.1Z" fill="#fde5de" stroke="#1c1c1c" stroke-width="1.0"/>
<path d="M63.5,252.2 L62.1,252.2 L61.1,256.5 L57.8,258.7 L58.9,262.0 L57.3,266.3 L61.4,268.7 L65.7,267.6 L68.9,267.6 L71.2,264.3 L73.3,260.0 L72.3,254.7 L72.3,249.9 L67.6,251.7Z" fill="#fde5de" stroke="#1c1c1c" stroke-width="1.0"/>
<path d="M70.3,272.0 L71.4,277.7 L73.7,280.5 L84.7,280.5 L84.7,273.5 L86.9,269.0 L84.2,267.7 L80.0,269.9 L74.8,270.9Z" fill="#fde5de" stroke="#1c1c1c" stroke-width="1.0"/>
<path d="M71.2,274.2 L73.5,278.9 L77.8,279.9 L82.1,282.1 L85.8,280.8 L84.7,276.4 L86.2,271.2 L84.4,266.3 L81.9,268.8 L75.7,270.8Z" fill="#fde5de" stroke="#1c1c1c" stroke-width="1.0"/>
<path d="M67.2,284.0 L65.5,287.3 L69.5,292.4 L76.0,291.3 L81.3,289.2 L84.5,286.0 L86.8,283.8 L85.5,280.0 L82.2,281.1 L78.1,279.1 L73.9,278.0 L71.6,278.0 L68.3,280.3Z" fill="#fde5de" stroke="#1c1c1c" stroke-width="1.0"/>
<path d="M85.8,283.5 L83.9,285.4 L80.6,288.7 L82.8,294.4 L88.1,296.5 L93.4,299.6 L96.0,299.6 L96.0,296.5 L98.8,296.0 L102.1,294.4 L104.4,290.9 L102.3,287.7 L103.2,284.0 L108.1,282.5 L113.2,282.5 L117.2,281.9 L117.2,281.8 L114.5,279.1 L110.2,277.5 L103.8,278.0 L97.6,278.5 L91.4,279.6 L84.6,280.1Z" fill="#fde5de" stroke="#1c1c1c" stroke-width="1.0"/>
<path d="M116.2,281.1 L112.3,281.8 L112.3,282.2 L117.1,284.1 L121.1,287.0 L122.2,290.3 L126.6,290.8 L132.2,291.4 L133.3,288.0 L136.0,283.7 L134.4,279.5 L136.7,273.8 L136.7,273.7 L131.7,274.9 L126.5,277.0 L120.3,279.1Z" fill="#fde5de" stroke="#1c1c1c" stroke-width="1.0"/>
<path d="M105.3,303.3 L106.6,304.6 L107.7,307.9 L111.1,308.4 L116.3,309.5 L121.6,309.0 L126.0,307.9 L127.0,305.3 L129.3,304.7 L128.2,300.2 L129.2,295.2 L132.7,290.6 L132.7,290.5 L126.7,289.9 L122.6,289.4 L120.3,289.4 L116.0,292.6 L111.9,296.8Z" fill="#fde5de" stroke="#1c1c1c" stroke-width="1.0"/>
<path d="M88.0,300.4 L86.8,303.4 L91.1,308.8 L94.5,314.5 L97.0,310.9 L100.0,307.8 L103.5,305.5 L100.1,301.0 L97.9,298.7 L95.5,298.7Z" fill="#fde5de" stroke="#1c1c1c" stroke-width="1.0"/>
<path d="M126.4,304.5 L125.1,307.6 L128.4,310.9 L130.3,313.8 L129.3,316.8 L130.4,321.1 L132.6,324.4 L135.8,326.6 L141.1,327.6 L145.3,328.7 L152.6,328.7 L158.8,329.7 L165.5,329.1 L164.9,320.0 L158.9,319.5 L148.6,318.4 L143.5,316.4 L140.5,313.4 L137.4,309.3 L135.3,306.1 L132.0,305.0 L128.8,303.9Z" fill="#fde5de" stroke="#1c1c1c" stroke-width="1.0"/>
<path d="M155.7,269.9 L156.9,273.4 L158.9,276.3 L158.0,279.1 L154.9,281.2 L153.8,284.3 L150.7,286.3 L149.5,289.9 L152.0,292.4 L154.4,291.2 L158.7,289.0 L159.8,285.9 L162.7,283.9 L165.8,282.9 L169.1,279.7 L171.1,276.6 L174.0,274.7 L178.0,275.7 L181.4,274.6 L184.8,270.1 L181.5,265.6 L179.4,262.5 L176.6,259.1 L173.7,260.3 L169.6,262.4 L166.5,263.4 L161.2,265.5Z" fill="#fde5de" stroke="#1c1c1c" stroke-width="1.0"/>
<path d="M170.5,275.9 L168.2,279.3 L169.4,281.7 L171.5,284.9 L175.9,287.1 L180.2,287.1 L184.8,284.8 L183.7,281.4 L184.7,276.1 L181.2,273.7 L178.0,274.8 L173.8,273.7Z" fill="#fde5de" stroke="#1c1c1c" stroke-width="1.0"/>
<path d="M159.0,285.3 L157.8,288.9 L161.2,291.2 L165.5,293.3 L171.9,293.3 L184.7,286.9 L184.7,283.8 L180.0,286.2 L176.1,286.2 L172.1,284.2 L170.1,281.2 L168.8,278.6 L165.4,282.1 L162.3,283.1Z" fill="#fde5de" stroke="#1c1c1c" stroke-width="1.0"/>
<path d="M119.5,281.2 L119.5,285.7 L120.7,289.0 L124.0,291.2 L129.5,292.3 L133.7,288.1 L145.2,287.1 L147.4,282.5 L145.2,278.1 L140.8,274.2 L134.4,276.9 L128.2,276.9 L122.9,279.0Z" fill="#fde5de" stroke="#1c1c1c" stroke-width="1.0"/>
<path d="M120.0,273.7 L115.4,273.7 L115.4,279.7 L120.0,282.0 L123.3,279.8 L128.4,277.8 L134.6,277.8 L140.9,275.1 L145.9,274.1 L151.2,274.7 L157.2,269.9 L157.0,269.5 L150.0,270.6 L140.7,271.7 L133.4,271.7 L126.1,272.7Z" fill="#fde5de" stroke="#1c1c1c" stroke-width="1.0"/>
<path d="M595.1,463.2 L595.1,465.3 L592.3,467.2 L588.9,468.3 L588.9,470.9 L591.1,474.2 L593.3,475.2 L596.6,478.6 L600.1,475.2 L603.3,470.9 L604.4,465.5 L602.1,459.8 L598.5,461.0Z" fill="#fde5de" stroke="#1c1c1c" stroke-width="1.0"/>
<path d="M611.8,459.0 L608.5,461.2 L610.8,465.9 L614.2,468.1 L618.6,467.0 L622.0,463.6 L620.9,458.1 L618.6,453.6 L613.9,454.8Z" fill="#fde5de" stroke="#1c1c1c" stroke-width="1.0"/>
<path d="M592.1,478.2 L594.3,481.6 L598.8,481.0 L603.8,480.5 L606.8,481.7 L608.5,475.9 L607.4,471.4 L602.7,470.2 L599.4,474.6 L596.6,477.3 L593.8,474.5 L591.0,473.1 L590.8,473.2Z" fill="#fde5de" stroke="#1c1c1c" stroke-width="1.0"/>
<path d="M621.4,462.9 L617.9,466.4 L617.9,470.4 L621.1,472.6 L622.2,475.2 L624.4,476.3 L628.6,478.4 L632.8,479.6 L633.4,474.7 L630.1,470.4 L627.0,468.3 L624.9,465.2Z" fill="#fde5de" stroke="#1c1c1c" stroke-width="1.0"/>
<path d="M622.1,481.0 L621.0,484.3 L623.2,486.5 L624.3,491.0 L627.8,489.8 L632.3,488.7 L632.3,484.2 L632.9,478.7 L628.9,477.6 L624.8,475.5 L622.1,474.1Z" fill="#fde5de" stroke="#1c1c1c" stroke-width="1.0"/>
<path d="M606.6,470.9 L606.4,471.1 L607.6,475.9 L605.9,481.4 L609.0,482.6 L611.3,482.6 L615.5,479.4 L618.7,477.3 L620.3,475.7 L616.7,474.5 L615.7,471.4 L613.1,470.2 L610.0,473.3Z" fill="#fde5de" stroke="#1c1c1c" stroke-width="1.0"/>
<path d="M545.9,431.7 L544.1,431.7 L544.0,432.1 L547.7,434.5 L549.7,436.6 L552.8,440.7 L555.1,443.0 L561.7,441.9 L563.9,438.6 L564.9,436.1 L570.4,434.5 L569.1,431.9 L566.0,428.7 L563.9,424.6 L561.5,421.7 L555.0,426.6 L549.8,430.7Z" fill="#fde5de" stroke="#1c1c1c" stroke-width="1.0"/>
<path d="M543.0,448.9 L543.0,449.2 L552.0,449.2 L557.2,451.2 L561.5,452.3 L565.8,451.2 L569.9,448.1 L571.1,448.1 L572.4,444.1 L569.1,444.1 L568.1,440.2 L565.8,437.9 L563.3,437.9 L561.2,441.0 L555.1,442.0 L550.9,443.1 L546.7,445.2Z" fill="#fde5de" stroke="#1c1c1c" stroke-width="1.0"/>
<path d="M540.3,449.4 L540.3,455.0 L541.5,459.8 L546.1,456.3 L550.1,454.4 L554.0,455.3 L559.2,458.5 L564.5,459.5 L568.8,460.6 L573.2,458.4 L574.4,454.9 L572.2,451.6 L571.1,447.2 L569.6,447.2 L565.4,450.4 L561.5,451.3 L557.4,450.3 L552.2,448.3 L543.8,448.3Z" fill="#fde5de" stroke="#1c1c1c" stroke-width="1.0"/>
<path d="M540.9,459.1 L545.8,461.6 L551.0,462.6 L561.3,466.7 L566.6,469.9 L570.9,467.8 L574.9,466.8 L578.3,467.9 L579.6,463.0 L576.9,460.9 L576.3,457.6 L572.7,457.6 L568.7,459.6 L564.7,458.6 L559.5,457.6 L554.4,454.5 L550.0,453.4 L545.7,455.6Z" fill="#fde5de" stroke="#1c1c1c" stroke-width="1.0"/>
<path d="M58.9,147.2 L57.5,148.9 L59.6,159.9 L55.8,164.0 L54.0,167.8 L56.1,169.5 L62.7,168.2 L65.7,170.4 L68.8,165.8 L72.3,156.0 L73.0,148.2Z" fill="#ffffff" stroke="#1c1c1c" stroke-width="1.0"/>
<path d="M72.1,148.2 L71.4,155.8 L68.0,165.4 L65.5,169.1 L62.9,167.2 L56.2,168.6 L54.0,167.6 L53.9,167.8 L56.6,175.3 L55.2,182.2 L55.8,185.3 L61.3,186.7 L69.1,191.7 L71.5,189.3 L75.0,180.9 L78.5,169.8 L77.8,165.6 L81.2,156.1 L85.7,147.9Z" fill="#ffffff" stroke="#1c1c1c" stroke-width="1.0"/>
<path d="M159.6,142.4 L159.6,143.7 L169.5,153.3 L178.2,153.3 L180.8,150.3 L191.2,157.3 L193.6,153.3 L192.9,148.2 L189.8,140.7 L190.2,136.0 L173.7,138.9Z" fill="#ffffff" stroke="#1c1c1c" stroke-width="1.0"/>
<path d="M169.0,152.4 L172.0,158.9 L176.9,165.1 L179.1,169.5 L187.7,170.2 L198.0,164.1 L191.4,156.3 L180.6,149.1 L177.8,152.4Z" fill="#ffffff" stroke="#1c1c1c" stroke-width="1.0"/>
<path d="M202.5,131.8 L201.7,135.2 L203.8,142.2 L203.5,152.4 L206.5,151.5 L213.7,147.1 L212.3,142.9 L215.6,138.3 L220.1,133.7 L215.4,130.9 L208.3,130.3Z" fill="#ffffff" stroke="#1c1c1c" stroke-width="1.0"/>
<path d="M219.1,167.2 L217.7,171.5 L215.0,172.8 L209.4,176.3 L207.1,180.1 L208.6,182.4 L210.0,186.5 L213.8,191.8 L217.7,189.4 L221.1,184.6 L229.4,177.7 L233.9,172.1 L227.9,167.9Z" fill="#ffffff" stroke="#1c1c1c" stroke-width="1.0"/>
<path d="M444.6,368.4 L442.4,372.1 L443.1,375.8 L446.0,380.1 L450.4,383.1 L454.8,381.6 L458.9,380.2 L462.6,378.7 L463.4,372.6 L460.4,371.1 L454.8,367.6 L449.0,366.9Z" fill="#ffffff" stroke="#1c1c1c" stroke-width="1.0"/>
<path d="M580.4,436.0 L580.4,440.6 L583.3,444.9 L586.2,447.8 L589.7,447.8 L588.2,441.8 L589.6,436.3 L586.4,429.9 L586.2,429.9 L584.7,434.6Z" fill="#ffffff" stroke="#1c1c1c" stroke-width="1.0"/>
<path d="M478.4,444.6 L477.2,449.2 L479.4,451.4 L481.6,454.6 L485.0,456.3 L488.5,453.4 L488.5,449.0 L486.3,444.6 L481.8,442.9Z" fill="#ffffff" stroke="#1c1c1c" stroke-width="1.0"/>
<path d="M460.6,447.1 L461.3,451.6 L465.6,451.6 L466.9,448.9 L464.4,447.1Z" fill="#ffffff" stroke="#1c1c1c" stroke-width="1.0"/>
<path d="M466.9,447.1 L466.9,450.5 L470.5,451.1 L474.2,449.3 L472.8,446.5Z" fill="#ffffff" stroke="#1c1c1c" stroke-width="1.0"/>
<path d="M465.9,451.3 L465.9,456.4 L468.1,460.9 L471.9,460.9 L473.0,456.3 L471.9,454.1 L470.8,450.6Z" fill="#ffffff" stroke="#1c1c1c" stroke-width="1.0"/>
<path d="M256.5,358.3 L258.7,364.0 L260.3,368.9 L263.5,365.7 L267.6,364.3 L271.3,359.9 L272.0,354.0 L267.6,351.0 L263.1,349.5Z" fill="#ffffff" stroke="#1c1c1c" stroke-width="1.0"/>
<path d="M375.2,324.6 L374.6,327.7 L376.5,330.2 L380.3,328.9 L379.0,324.0Z" fill="#ffffff" stroke="#1c1c1c" stroke-width="1.0"/>
<path d="M490.3,468.1 L489.8,474.6 L491.5,482.3 L498.1,481.7 L508.9,479.6 L508.3,471.3 L506.6,468.0 L502.3,466.4 L496.5,463.7 L493.6,464.8Z" fill="#ffffff" stroke="#1c1c1c" stroke-width="1.0"/>
<path d="M465.5,451.3 L464.9,454.9 L466.6,458.2 L470.1,461.7 L472.6,459.1 L470.4,451.9Z" fill="#ffffff" stroke="#1c1c1c" stroke-width="1.0"/>
<path d="M460.4,447.1 L459.7,449.8 L461.6,452.2 L466.5,451.6 L465.2,447.7Z" fill="#ffffff" stroke="#1c1c1c" stroke-width="1.0"/>
<path d="M466.1,447.8 L468.9,451.2 L474.8,449.4 L473.4,446.6Z" fill="#ffffff" stroke="#1c1c1c" stroke-width="1.0"/>
<path d="M586.9,458.0 L588.1,461.7 L592.8,460.5 L595.3,458.0 L591.7,455.6 L588.1,454.4Z" fill="#ffffff" stroke="#1c1c1c" stroke-width="1.0"/>
<path d="M588.1,454.6 L586.8,458.3 L588.1,460.8 L591.5,460.8 L595.4,459.5 L591.7,455.8Z" fill="#ffffff" stroke="#1c1c1c" stroke-width="1.0"/>
<path d="M632.5,474.6 L631.9,479.0 L631.4,484.2 L631.4,488.6 L634.8,490.8 L639.2,491.9 L643.5,489.8 L648.0,486.4 L645.7,482.9 L643.6,478.7 L640.5,475.6 L638.3,472.9 L635.9,472.3Z" fill="#ffffff" stroke="#1c1c1c" stroke-width="1.0"/>
<path d="M610.5,482.1 L612.9,484.5 L616.1,486.7 L618.5,487.9 L621.9,484.4 L623.1,481.0 L620.8,478.7 L618.5,476.4 L615.0,478.6Z" fill="#ffffff" stroke="#1c1c1c" stroke-width="1.0"/>
<path d="M614.7,471.5 L616.0,475.2 L619.4,476.4 L623.1,475.1 L621.9,472.0 L618.4,469.7Z" fill="#ffffff" stroke="#1c1c1c" stroke-width="1.0"/>
<path d="M615.0,535.0 L618.8,537.8 L622.9,540.3 L626.2,543.6 L628.4,544.7 L629.4,541.8 L631.8,538.5 L633.6,534.1 L631.8,530.4 L626.4,529.5 L623.9,531.1 L620.6,530.3Z" fill="#ffffff" stroke="#1c1c1c" stroke-width="1.0"/>
<path d="M628.6,541.4 L627.6,544.1 L629.4,547.6 L632.1,550.3 L634.8,550.3 L639.3,549.4 L640.2,546.5 L637.6,542.9 L633.4,540.4 L631.5,537.5Z" fill="#ffffff" stroke="#1c1c1c" stroke-width="1.0"/>
<path d="M620.2,550.4 L621.1,555.0 L622.9,557.8 L626.7,557.8 L632.0,550.7 L630.0,548.6 L624.7,548.6Z" fill="#ffffff" stroke="#1c1c1c" stroke-width="1.0"/>
<path d="M622.7,557.8 L622.7,560.9 L625.6,562.8 L629.9,561.9 L633.3,560.2 L637.3,559.2 L637.3,559.2 L635.1,557.1 L633.5,553.8 L631.5,550.8 L628.6,553.7 L626.2,556.9Z" fill="#ffffff" stroke="#1c1c1c" stroke-width="1.0"/>
<path d="M631.6,549.4 L636.1,558.5 L639.6,559.4 L643.0,561.1 L646.6,560.2 L648.6,558.2 L645.1,552.9 L641.6,549.5 L638.9,548.6 L634.7,549.4Z" fill="#ffffff" stroke="#1c1c1c" stroke-width="1.0"/>
<path d="M643.2,550.4 L645.3,554.5 L649.7,554.0 L656.8,553.6 L656.8,548.5 L648.0,549.4Z" fill="#ffffff" stroke="#1c1c1c" stroke-width="1.0"/>
<path d="M644.8,554.1 L647.7,558.5 L650.4,559.4 L656.8,560.3 L656.8,553.2 L649.6,553.2Z" fill="#ffffff" stroke="#1c1c1c" stroke-width="1.0"/>
<path d="M622.1,562.7 L618.5,568.1 L621.3,571.8 L627.4,572.7 L633.4,568.4 L636.8,564.3 L639.5,561.5 L636.6,558.5 L633.0,559.4 L629.6,561.0 L625.5,561.9Z" fill="#ffffff" stroke="#1c1c1c" stroke-width="1.0"/>
<path d="M638.7,561.0 L636.1,563.7 L630.7,569.9 L634.9,572.0 L638.4,567.6 L641.8,564.2 L643.8,560.6 L643.8,560.5Z" fill="#ffffff" stroke="#1c1c1c" stroke-width="1.0"/>
<path d="M642.9,560.4 L641.0,563.7 L637.7,567.0 L634.0,571.6 L639.1,573.6 L641.8,570.0 L644.3,565.8 L645.2,562.1Z" fill="#ffffff" stroke="#1c1c1c" stroke-width="1.0"/>
<path d="M634.2,531.3 L635.2,536.1 L639.2,537.1 L641.1,533.2 L638.2,530.3Z" fill="#ffffff" stroke="#1c1c1c" stroke-width="1.0"/>
<path d="M639.1,531.2 L640.1,534.1 L639.1,538.0 L643.9,537.1 L648.0,537.9 L656.1,537.9 L654.2,532.1 L646.4,530.8Z" fill="#ffffff" stroke="#1c1c1c" stroke-width="1.0"/>
<path d="M641.0,525.4 L639.1,532.1 L646.5,531.7 L648.5,530.2 L647.6,524.5Z" fill="#ffffff" stroke="#1c1c1c" stroke-width="1.0"/>
<path d="M647.6,524.5 L647.6,530.3 L653.8,532.9 L656.9,531.9 L655.0,524.5Z" fill="#ffffff" stroke="#1c1c1c" stroke-width="1.0"/>
<path d="M633.6,524.5 L632.6,528.4 L634.5,532.2 L638.0,531.3 L640.0,532.3 L641.9,525.6 L639.8,524.5Z" fill="#ffffff" stroke="#1c1c1c" stroke-width="1.0"/>
<path d="M595.1,505.6 L595.6,510.3 L598.3,510.3 L600.1,507.6 L601.0,504.9 L600.0,500.9 L596.9,502.9Z" fill="#ffffff" stroke="#1c1c1c" stroke-width="1.0"/>
<path d="M595.4,514.4 L593.5,517.3 L593.9,520.1 L596.3,521.6 L599.3,521.1 L600.2,518.2 L599.3,514.4Z" fill="#ffffff" stroke="#1c1c1c" stroke-width="1.0"/>
<path d="M599.3,518.0 L598.6,520.3 L596.1,520.7 L594.3,523.9 L594.8,527.4 L598.2,526.9 L604.9,525.2 L607.7,522.5 L607.2,518.8 L605.0,516.1 L601.2,515.2Z" fill="#ffffff" stroke="#1c1c1c" stroke-width="1.0"/>
<path d="M610.7,503.1 L610.9,503.2 L615.8,500.3 L618.0,498.1 L617.9,497.8 L615.4,497.8 L611.8,498.7Z" fill="#ffffff" stroke="#1c1c1c" stroke-width="1.0"/>
<path d="M615.7,533.1 L618.5,536.0 L621.9,537.6 L624.4,540.1 L628.1,541.1 L629.9,538.4 L632.5,535.8 L633.4,531.1 L629.7,530.2 L626.2,529.3 L623.8,530.9 L620.6,529.3 L619.5,529.3Z" fill="#ffffff" stroke="#1c1c1c" stroke-width="1.0"/>
<path d="M627.5,540.4 L626.6,543.9 L627.5,548.2 L629.4,550.5 L637.3,550.5 L639.2,546.4 L638.3,541.2 L635.7,537.8 L632.0,535.0 L629.2,537.8Z" fill="#ffffff" stroke="#1c1c1c" stroke-width="1.0"/>
<path d="M29.4,218.3 L27.7,221.7 L32.3,225.2 L38.7,224.6 L44.1,223.0 L45.9,219.6 L45.3,215.1 L40.9,212.9 L33.2,211.8Z" fill="#ffffff" stroke="#1c1c1c" stroke-width="1.0"/>
<path d="M44.4,215.3 L45.0,220.0 L46.8,220.0 L49.7,222.9 L53.2,225.8 L56.6,222.9 L58.8,218.7 L60.9,213.3 L59.8,207.9 L55.3,204.5 L48.7,207.8Z" fill="#ffffff" stroke="#1c1c1c" stroke-width="1.0"/>
<path d="M58.9,208.0 L59.9,213.2 L57.9,218.3 L55.8,222.5 L55.8,224.8 L61.7,223.0 L65.9,218.8 L70.0,215.7 L74.4,213.5 L73.1,209.6 L68.8,210.7 L62.5,204.4Z" fill="#ffffff" stroke="#1c1c1c" stroke-width="1.0"/>
<path d="M37.1,241.3 L40.4,246.8 L46.2,249.1 L47.4,245.6 L49.4,240.4 L51.7,235.8 L45.9,234.1 L40.4,235.2Z" fill="#ffffff" stroke="#1c1c1c" stroke-width="1.0"/>
<path d="M45.4,248.5 L46.5,255.0 L53.0,258.3 L59.5,259.4 L61.9,257.0 L63.0,252.5 L59.7,249.2 L57.7,247.3 L56.7,243.2 L55.6,239.0 L53.4,236.8 L50.9,235.5 L48.6,240.0 L46.5,245.3Z" fill="#ffffff" stroke="#1c1c1c" stroke-width="1.0"/>
<path d="M54.8,239.4 L55.8,243.5 L57.0,248.2 L61.6,245.3 L65.9,244.8 L67.1,241.2 L64.8,236.7 L52.4,236.7 L52.3,236.9Z" fill="#ffffff" stroke="#1c1c1c" stroke-width="1.0"/>
<path d="M56.6,247.4 L59.1,249.9 L62.3,253.1 L63.6,253.1 L67.8,252.6 L72.2,250.9 L73.2,247.8 L78.2,245.8 L83.6,244.8 L84.8,239.9 L79.2,238.8 L74.1,236.7 L68.9,234.6 L65.3,233.4 L64.1,237.2 L66.1,241.3 L65.3,244.0 L61.3,244.5Z" fill="#ffffff" stroke="#1c1c1c" stroke-width="1.0"/>
<path d="M71.4,250.2 L71.4,254.8 L72.4,259.9 L70.4,263.8 L68.2,267.1 L70.5,272.9 L75.0,271.8 L80.3,270.7 L84.4,268.6 L87.6,267.6 L89.8,264.3 L91.9,261.1 L93.0,256.9 L94.1,252.6 L91.9,248.2 L88.5,245.4 L84.1,247.1 L80.0,248.1Z" fill="#ffffff" stroke="#1c1c1c" stroke-width="1.0"/>
<path d="M56.0,268.8 L53.2,272.2 L54.9,280.5 L71.1,280.5 L72.3,277.6 L71.2,272.2 L69.0,266.7 L65.5,266.7 L61.4,267.8Z" fill="#ffffff" stroke="#1c1c1c" stroke-width="1.0"/>
<path d="M83.9,312.3 L81.6,316.8 L83.8,323.3 L89.1,326.5 L92.5,331.1 L96.1,325.1 L95.0,323.0 L97.1,316.7 L94.9,313.5 L91.5,307.8 L90.1,309.2Z" fill="#ffffff" stroke="#1c1c1c" stroke-width="1.0"/>
<path d="M96.3,310.3 L94.0,313.7 L96.4,317.2 L100.6,317.8 L103.9,319.4 L107.3,317.2 L110.1,314.9 L109.5,310.5 L108.5,307.3 L107.4,304.1 L106.0,302.8 L102.6,305.0 L99.5,307.1Z" fill="#ffffff" stroke="#1c1c1c" stroke-width="1.0"/>
<path d="M94.1,324.9 L91.9,330.5 L98.8,334.0 L102.3,329.3 L100.1,324.2 L95.4,322.5Z" fill="#ffffff" stroke="#1c1c1c" stroke-width="1.0"/>
<path d="M96.3,316.3 L95.1,319.8 L95.1,323.3 L99.4,324.9 L101.4,329.5 L103.6,331.7 L110.2,335.0 L116.7,328.5 L118.7,325.4 L122.8,321.3 L126.9,318.3 L130.1,317.2 L131.3,313.6 L129.1,310.3 L125.8,307.0 L121.4,308.1 L116.3,308.6 L111.2,307.6 L107.4,306.9 L108.6,310.7 L109.1,314.5 L106.7,316.4 L103.9,318.4 L100.9,316.9Z" fill="#ffffff" stroke="#1c1c1c" stroke-width="1.0"/>
<path d="M115.7,328.3 L122.3,333.8 L128.6,335.9 L135.9,338.0 L142.6,339.1 L143.7,333.5 L145.9,327.9 L141.3,326.7 L136.2,325.7 L133.2,323.7 L131.2,320.8 L130.1,316.2 L126.5,317.4 L122.2,320.6 L118.0,324.8Z" fill="#ffffff" stroke="#1c1c1c" stroke-width="1.0"/>
<path d="M135.7,273.8 L133.5,279.5 L135.0,283.6 L132.5,287.6 L131.5,290.7 L128.3,294.9 L127.3,300.2 L128.4,304.7 L131.7,305.8 L134.7,306.8 L136.7,309.8 L139.8,314.0 L143.0,317.2 L148.3,319.3 L158.8,320.4 L164.1,320.9 L164.6,329.2 L186.0,329.2 L186.0,322.4 L180.7,316.0 L175.2,311.6 L169.9,314.4 L167.1,310.3 L166.1,305.3 L167.1,300.0 L165.0,295.9 L166.1,292.6 L161.7,290.4 L158.4,288.2 L154.0,290.4 L152.2,291.3 L150.3,289.3 L146.3,288.0 L146.1,288.4 L145.0,287.7 L147.9,283.7 L143.6,275.0 L140.2,274.4Z" fill="#ffffff" stroke="#1c1c1c" stroke-width="1.0"/>
<path d="M142.6,275.1 L146.9,283.6 L143.6,287.9 L149.5,291.4 L151.9,290.2 L153.0,285.9 L156.0,281.9 L159.4,278.6 L158.1,276.1 L153.8,273.9 L149.5,272.8Z" fill="#ffffff" stroke="#1c1c1c" stroke-width="1.0"/>
<path d="M139.9,274.4 L139.8,274.5 L144.5,278.6 L146.4,282.5 L144.3,286.7 L146.7,289.1 L150.3,290.3 L151.5,286.9 L154.6,284.8 L155.6,281.7 L158.7,279.7 L159.9,276.2 L157.7,273.0 L156.5,269.3 L151.0,273.7 L145.9,273.2Z" fill="#ffffff" stroke="#1c1c1c" stroke-width="1.0"/>
<path d="M77.7,169.2 L74.2,180.6 L70.6,189.2 L74.4,192.2 L80.8,194.4 L92.4,191.5 L89.6,183.7 L93.8,181.0 L90.8,174.2 L87.9,172.8Z" fill="#fdbfc6" stroke="#1c1c1c" stroke-width="1.0"/>
<path d="M89.8,174.3 L93.0,181.3 L98.7,180.2 L108.2,184.6 L113.8,188.1 L120.8,188.8 L126.4,190.9 L130.9,189.4 L132.4,184.1 L129.7,182.0 L132.5,176.6 L126.7,170.8 L123.3,166.1 L121.1,160.9 L116.8,162.3 L113.9,160.2 L108.1,166.6 L102.7,170.7 L95.9,172.8Z" fill="#fdbfc6" stroke="#1c1c1c" stroke-width="1.0"/>
<path d="M127.9,191.5 L125.8,198.0 L128.6,204.4 L131.4,210.0 L138.5,214.3 L145.2,215.0 L147.4,209.8 L148.8,202.8 L147.4,195.7 L141.7,190.0 L134.6,187.8 L131.6,187.8Z" fill="#fdbfc6" stroke="#1c1c1c" stroke-width="1.0"/>
<path d="M185.3,241.9 L183.7,246.5 L188.3,249.5 L189.9,249.5 L195.4,246.8 L200.9,248.2 L203.8,246.7 L210.0,245.2 L210.0,245.1 L202.5,239.0 L199.0,237.6 L196.5,236.0 L195.0,239.0 L189.7,239.7Z" fill="#fdbfc6" stroke="#1c1c1c" stroke-width="1.0"/>
<path d="M324.0,290.0 L322.5,293.0 L320.4,297.9 L319.7,303.7 L322.9,307.0 L325.9,303.9 L331.3,301.9 L339.8,299.1 L341.4,295.0 L331.3,290.7Z" fill="#fdbfc6" stroke="#1c1c1c" stroke-width="1.0"/>
<path d="M347.0,316.9 L342.5,319.9 L342.5,323.0 L344.6,328.7 L349.2,331.7 L353.6,328.7 L355.8,324.4 L356.6,320.5 L352.1,319.0Z" fill="#fdbfc6" stroke="#1c1c1c" stroke-width="1.0"/>
<path d="M388.0,324.9 L383.8,328.4 L383.0,330.0 L384.4,334.4 L386.6,340.2 L391.1,339.5 L396.9,338.0 L399.1,330.3 L401.4,328.0 L398.3,324.9 L395.5,321.4 L392.3,320.6Z" fill="#fdbfc6" stroke="#1c1c1c" stroke-width="1.0"/>
<path d="M462.5,369.9 L462.5,375.6 L461.0,379.8 L462.5,384.3 L468.4,387.2 L471.3,385.8 L477.3,384.3 L475.9,380.1 L480.4,378.6 L480.4,378.5 L474.3,373.9 L471.4,371.1 L468.7,371.1 L467.3,367.4Z" fill="#fdbfc6" stroke="#1c1c1c" stroke-width="1.0"/>
<path d="M510.4,402.8 L512.7,407.4 L512.0,411.5 L512.7,414.3 L513.4,417.1 L514.1,422.8 L517.3,424.4 L521.8,421.4 L523.2,417.2 L526.0,411.6 L527.4,406.0 L527.4,404.1 L521.4,403.4 L518.7,404.7 L514.6,402.0Z" fill="#fdbfc6" stroke="#1c1c1c" stroke-width="1.0"/>
<path d="M563.7,419.6 L566.6,426.9 L569.5,431.2 L574.1,432.7 L577.3,429.5 L574.4,425.1 L573.1,420.5 L575.7,417.3 L581.5,412.9 L577.5,408.8 L570.9,413.2Z" fill="#fdbfc6" stroke="#1c1c1c" stroke-width="1.0"/>
<path d="M569.2,430.1 L569.0,430.4 L572.3,435.3 L575.3,436.8 L578.1,435.4 L580.8,436.8 L585.4,435.3 L586.9,430.7 L583.7,427.5 L581.5,428.3 L576.5,429.0 L573.8,431.7Z" fill="#fdbfc6" stroke="#1c1c1c" stroke-width="1.0"/>
<path d="M565.1,436.0 L568.0,443.4 L570.8,448.9 L572.3,454.9 L577.0,453.3 L581.2,449.0 L584.2,444.6 L581.3,440.3 L581.3,436.0 L578.1,434.4 L575.3,435.8 L572.7,434.5 L569.7,434.5Z" fill="#fdbfc6" stroke="#1c1c1c" stroke-width="1.0"/>
<path d="M454.7,413.4 L453.0,415.1 L453.0,415.1 L457.8,416.3 L460.2,419.2 L460.7,421.0 L459.4,423.5 L462.9,424.1 L463.7,425.7 L461.8,428.1 L459.3,431.9 L459.3,431.9 L461.0,431.9 L463.1,432.9 L466.2,432.9 L469.2,433.9 L471.2,436.0 L473.3,437.0 L475.3,439.0 L477.5,441.2 L481.0,442.3 L483.4,439.9 L482.3,435.4 L479.1,431.2 L477.1,428.1 L475.0,424.0 L472.9,419.8 L470.8,417.2 L466.5,412.9 L463.3,412.4 L461.2,411.8 L457.9,412.4Z" fill="#fdbfc6" stroke="#1c1c1c" stroke-width="1.0"/>
<path d="M458.7,439.5 L457.5,442.9 L460.9,446.9 L464.3,448.0 L467.7,446.3 L468.9,441.7 L466.6,438.3 L462.1,437.2Z" fill="#fdbfc6" stroke="#1c1c1c" stroke-width="1.0"/>
<path d="M215.4,351.3 L215.4,351.4 L221.6,355.3 L228.5,357.4 L236.8,360.8 L242.5,365.2 L248.2,360.2 L250.9,359.5 L257.3,358.8 L263.7,350.3 L265.1,341.8 L263.6,335.8 L257.6,335.1 L252.0,337.2 L242.3,342.8 L238.3,345.4 L230.3,341.4 L224.1,337.5 L224.0,337.6 L224.8,344.4 L221.5,349.0Z" fill="#fdbfc6" stroke="#1c1c1c" stroke-width="1.0"/>
<path d="M337.9,330.4 L336.8,340.8 L329.8,343.8 L326.3,346.1 L329.6,351.7 L333.9,356.0 L338.3,357.1 L344.0,354.8 L342.9,351.5 L343.8,348.6 L346.8,346.7 L351.1,345.6 L352.2,342.1 L351.1,337.5 L350.1,337.5 L349.6,332.0 L345.9,330.4 L343.0,325.8 L340.1,329.3Z" fill="#fdbfc6" stroke="#1c1c1c" stroke-width="1.0"/>
<path d="M371.0,333.6 L370.0,337.8 L367.8,341.1 L370.0,344.4 L371.0,348.5 L372.1,352.6 L375.5,359.5 L378.1,356.9 L379.1,352.8 L381.0,351.4 L385.3,350.8 L386.4,345.3 L386.9,341.1 L386.4,337.8 L382.1,329.4 L379.8,328.2 L376.5,329.3 L374.3,330.4Z" fill="#fdbfc6" stroke="#1c1c1c" stroke-width="1.0"/>
<path d="M375.1,358.5 L375.1,362.3 L378.6,362.3 L382.7,363.8 L387.0,364.3 L390.3,364.3 L392.7,361.9 L391.5,358.4 L388.4,356.3 L386.4,353.3 L385.2,349.9 L380.6,350.5 L378.3,352.2 L377.3,356.4Z" fill="#fdbfc6" stroke="#1c1c1c" stroke-width="1.0"/>
<path d="M397.9,371.7 L397.9,380.4 L396.2,388.1 L399.8,393.3 L405.3,393.3 L410.4,391.2 L415.5,392.3 L421.1,391.2 L423.2,385.8 L425.2,382.8 L429.5,380.7 L429.5,376.2 L427.4,372.0 L426.2,368.4 L422.8,369.6 L418.0,368.4 L417.8,368.6 L412.9,368.6 L406.6,369.7 L401.4,371.7Z" fill="#fdbfc6" stroke="#1c1c1c" stroke-width="1.0"/>
<path d="M390.6,440.5 L392.3,442.2 L399.5,447.9 L408.2,442.1 L409.6,436.3 L408.9,430.8 L409.6,425.3 L409.6,416.4 L403.6,417.9 L396.2,417.2 L397.6,425.3 L396.3,432.0 L393.6,437.4Z" fill="#fdbfc6" stroke="#1c1c1c" stroke-width="1.0"/>
<path d="M575.5,458.0 L576.1,461.4 L579.0,463.7 L582.3,462.6 L586.7,461.5 L587.8,458.0 L586.7,455.7 L582.5,452.5 L580.2,450.2 L576.6,452.6Z" fill="#fdbfc6" stroke="#1c1c1c" stroke-width="1.0"/>
<path d="M563.1,482.8 L561.9,485.2 L563.0,488.3 L561.9,491.5 L564.1,494.8 L567.2,499.0 L570.4,504.2 L575.6,508.4 L581.4,513.0 L582.6,508.1 L583.6,504.1 L585.6,501.0 L587.7,497.9 L589.8,494.8 L591.9,491.7 L593.0,488.3 L590.7,483.7 L589.2,483.7 L587.4,485.1 L585.5,482.8 L581.3,479.6 L578.1,478.6 L574.9,477.5 L567.4,480.7Z" fill="#fdbfc6" stroke="#1c1c1c" stroke-width="1.0"/>
<path d="M546.5,460.6 L546.4,460.6 L546.4,472.0 L549.8,473.7 L551.8,475.3 L556.0,477.3 L560.1,480.4 L563.4,483.7 L568.0,481.4 L569.2,479.0 L565.9,474.6 L561.7,470.4 L558.6,467.2 L554.3,465.1 L550.2,463.1Z" fill="#fdbfc6" stroke="#1c1c1c" stroke-width="1.0"/>
<path d="M565.4,467.2 L563.2,468.3 L560.8,470.7 L565.2,475.2 L568.1,479.1 L566.9,481.6 L567.1,481.8 L575.1,478.4 L577.2,476.3 L580.5,475.2 L580.5,471.6 L578.9,469.5 L578.4,467.3 L574.9,466.1 L569.6,466.1Z" fill="#fdbfc6" stroke="#1c1c1c" stroke-width="1.0"/>
<path d="M575.4,459.2 L576.6,463.8 L581.2,465.0 L584.4,462.8 L587.8,460.5 L586.6,457.0 L583.2,454.7 L578.8,455.8Z" fill="#fdbfc6" stroke="#1c1c1c" stroke-width="1.0"/>
<path d="M585.6,465.5 L589.3,469.2 L592.7,468.0 L596.0,465.8 L596.0,463.4 L594.8,460.8 L589.2,463.1Z" fill="#fdbfc6" stroke="#1c1c1c" stroke-width="1.0"/>
<path d="M622.3,454.8 L620.0,458.2 L621.1,463.7 L624.3,465.9 L626.4,469.0 L630.1,471.5 L631.3,466.7 L633.3,462.7 L636.3,459.7 L639.4,457.1 L641.8,454.1 L636.2,448.5 L631.7,448.5 L626.5,453.7Z" fill="#fdbfc6" stroke="#1c1c1c" stroke-width="1.0"/>
<path d="M638.8,456.4 L635.7,459.0 L632.5,462.2 L630.4,466.4 L629.2,471.1 L634.9,472.2 L637.8,473.2 L639.8,476.2 L642.9,479.3 L645.1,483.7 L648.8,482.5 L650.9,478.3 L655.1,475.1 L656.2,469.6 L654.0,464.2 L647.7,459.0 L641.1,453.5Z" fill="#fdbfc6" stroke="#1c1c1c" stroke-width="1.0"/>
<path d="M639.5,491.3 L643.0,496.0 L647.4,497.1 L652.1,495.9 L650.9,492.3 L647.6,487.8Z" fill="#fdbfc6" stroke="#1c1c1c" stroke-width="1.0"/>
<path d="M622.1,513.0 L622.1,517.5 L625.4,520.9 L629.9,522.0 L633.3,518.7 L635.5,514.3 L634.3,510.9 L630.9,507.5 L626.4,509.7Z" fill="#fdbfc6" stroke="#1c1c1c" stroke-width="1.0"/>
<path d="M580.8,521.2 L578.6,523.4 L578.6,529.2 L588.8,529.2 L588.8,525.0 L587.7,521.2 L584.2,518.9Z" fill="#fdbfc6" stroke="#1c1c1c" stroke-width="1.0"/>
<path d="M582.2,517.6 L576.7,523.2 L578.7,525.2 L582.0,527.6 L583.5,530.7 L582.7,534.5 L580.1,537.2 L582.9,541.9 L586.7,541.0 L589.3,538.4 L591.8,535.1 L595.8,532.4 L594.2,530.2 L589.3,528.6 L588.6,525.6 L589.5,522.2 L585.9,519.5Z" fill="#fdbfc6" stroke="#1c1c1c" stroke-width="1.0"/>
<path d="M183.9,242.8 L182.7,246.4 L186.2,248.7 L190.6,248.7 L193.9,246.6 L197.1,243.4 L198.3,239.6 L191.4,239.6 L187.2,240.6Z" fill="#fdbfc6" stroke="#1c1c1c" stroke-width="1.0"/>
<path d="M601.2,460.1 L603.4,465.6 L602.3,471.1 L606.8,472.2 L610.2,474.4 L613.7,470.8 L611.6,465.4 L609.4,461.1 L606.0,458.8Z" fill="#fdbfc6" stroke="#1c1c1c" stroke-width="1.0"/>
<path d="M539.9,460.7 L539.9,460.9 L543.6,464.6 L548.8,467.7 L554.0,471.9 L561.3,475.0 L569.7,477.1 L578.4,476.1 L579.5,471.5 L578.4,467.0 L574.9,465.9 L570.6,466.9 L566.7,468.9 L561.7,465.9 L551.2,461.7 L546.0,460.7Z" fill="#fdbfc6" stroke="#1c1c1c" stroke-width="1.0"/>
<path d="M140.2,140.5 L134.3,142.4 L132.9,146.0 L127.5,152.0 L122.1,152.7 L115.0,157.0 L113.4,160.2 L116.6,163.3 L120.6,162.0 L122.5,166.5 L126.0,171.4 L131.4,176.8 L130.0,181.8 L136.3,183.4 L140.6,174.1 L151.1,162.3 L150.3,158.4 L144.7,154.9 L143.4,151.8 L145.5,145.1 L147.9,141.8Z" fill="#e07d9e" stroke="#1c1c1c" stroke-width="1.0"/>
<path d="M307.2,286.3 L304.5,292.4 L303.0,301.2 L307.7,301.2 L313.2,300.6 L320.5,304.2 L321.3,298.1 L323.3,293.4 L324.9,290.2 L316.2,287.2 L305.8,282.8 L305.6,283.0Z" fill="#e07d9e" stroke="#1c1c1c" stroke-width="1.0"/>
<path d="M296.3,302.4 L294.9,306.1 L290.7,310.2 L287.9,317.2 L285.1,322.8 L286.5,328.3 L283.2,330.9 L278.2,339.2 L275.9,338.6 L273.2,334.5 L269.0,333.1 L264.3,330.0 L262.8,336.3 L264.3,342.2 L268.6,342.2 L279.7,349.2 L285.4,347.8 L292.4,347.1 L299.5,342.8 L300.9,339.3 L305.3,334.2 L308.2,327.1 L307.5,322.8 L306.8,317.3 L304.7,309.0 L303.9,300.0 L303.9,300.0 L300.6,302.4Z" fill="#e07d9e" stroke="#1c1c1c" stroke-width="1.0"/>
<path d="M346.0,307.3 L345.2,311.9 L346.7,317.7 L351.8,319.9 L356.2,321.4 L359.4,317.4 L357.8,314.4 L353.6,308.8 L350.7,306.5Z" fill="#e07d9e" stroke="#1c1c1c" stroke-width="1.0"/>
<path d="M372.2,315.1 L372.2,319.1 L376.8,320.6 L382.6,319.1 L384.9,314.7 L384.1,310.0 L378.0,310.0Z" fill="#e07d9e" stroke="#1c1c1c" stroke-width="1.0"/>
<path d="M368.2,318.3 L366.6,323.0 L369.6,327.4 L374.1,328.9 L380.2,325.9 L377.1,319.8 L372.7,318.3Z" fill="#e07d9e" stroke="#1c1c1c" stroke-width="1.0"/>
<path d="M393.3,310.1 L394.1,315.6 L394.8,322.0 L397.6,325.5 L400.7,328.6 L407.8,324.3 L413.5,322.8 L414.4,318.8 L405.0,313.1Z" fill="#e07d9e" stroke="#1c1c1c" stroke-width="1.0"/>
<path d="M400.4,327.6 L398.3,329.8 L396.1,337.7 L397.6,340.0 L400.3,344.1 L401.7,349.6 L404.6,353.2 L410.6,355.5 L412.9,352.4 L413.6,348.3 L416.2,346.3 L420.6,344.1 L419.8,339.6 L417.7,334.1 L416.3,325.0 L413.3,322.0 L407.5,323.4Z" fill="#e07d9e" stroke="#1c1c1c" stroke-width="1.0"/>
<path d="M456.6,346.1 L451.5,351.9 L447.3,358.9 L444.4,364.0 L448.9,367.8 L454.5,368.5 L460.1,372.0 L463.1,370.5 L466.8,368.7 L468.1,372.0 L471.1,372.0 L477.0,373.4 L478.5,367.5 L481.5,361.9 L475.6,358.7 L470.1,354.6 L463.1,349.7Z" fill="#e07d9e" stroke="#1c1c1c" stroke-width="1.0"/>
<path d="M390.5,363.1 L393.4,369.0 L397.9,373.4 L400.9,372.0 L410.5,370.6 L417.3,369.2 L424.4,370.6 L427.6,367.4 L423.2,361.6 L419.0,356.0 L414.7,351.7 L412.2,351.7 L410.2,354.4 L404.8,352.3 L401.8,355.3 L396.3,358.7Z" fill="#e07d9e" stroke="#1c1c1c" stroke-width="1.0"/>
<path d="M515.7,386.1 L509.3,394.0 L509.3,399.1 L510.8,403.7 L514.4,402.9 L518.7,405.8 L521.5,404.3 L527.7,405.1 L526.0,401.0 L526.0,394.7 L520.3,386.9Z" fill="#e07d9e" stroke="#1c1c1c" stroke-width="1.0"/>
<path d="M520.8,425.3 L523.7,428.1 L521.0,433.5 L522.5,438.0 L526.8,440.9 L532.4,440.9 L537.2,442.5 L535.7,435.0 L537.1,430.8 L535.7,425.0 L532.7,422.0 L528.4,422.7 L524.1,422.0Z" fill="#e07d9e" stroke="#1c1c1c" stroke-width="1.0"/>
<path d="M468.2,391.5 L466.9,394.1 L469.0,400.5 L471.1,405.8 L474.3,409.0 L478.6,411.2 L481.6,411.7 L484.4,414.4 L488.2,411.7 L493.4,411.2 L497.6,409.6 L501.9,408.0 L503.0,403.6 L504.0,399.7 L505.7,399.3 L502.2,395.0 L497.3,397.8 L493.4,396.8 L488.2,394.7 L483.0,393.7 L477.8,392.1 L472.6,392.7Z" fill="#e07d9e" stroke="#1c1c1c" stroke-width="1.0"/>
<path d="M264.2,341.3 L262.7,350.4 L267.2,351.9 L271.0,354.4 L270.4,359.6 L267.1,363.5 L263.0,364.9 L259.9,367.9 L262.8,375.2 L267.0,380.8 L272.6,386.3 L279.5,391.9 L286.4,397.4 L292.0,402.2 L296.3,405.8 L300.7,404.4 L306.4,400.1 L309.2,394.5 L310.7,391.6 L309.2,384.4 L305.0,378.8 L300.9,373.3 L299.6,369.3 L296.8,362.3 L294.0,358.1 L289.8,353.9 L285.6,351.1 L280.0,348.3 L268.9,341.3Z" fill="#e07d9e" stroke="#1c1c1c" stroke-width="1.0"/>
<path d="M337.7,356.4 L338.9,359.9 L339.9,364.0 L341.0,371.6 L344.6,371.6 L348.8,369.5 L353.9,368.0 L358.3,367.4 L359.4,363.0 L361.6,359.8 L359.9,354.4 L357.3,350.1 L353.9,347.9 L348.6,348.4 L343.2,350.0 L341.9,351.3 L342.9,354.3Z" fill="#e07d9e" stroke="#1c1c1c" stroke-width="1.0"/>
<path d="M354.6,342.8 L352.3,346.2 L353.5,348.7 L356.6,350.7 L359.1,354.7 L360.6,359.7 L358.6,362.7 L357.5,367.1 L361.9,371.5 L368.4,373.7 L371.8,371.5 L373.9,368.3 L376.0,364.0 L376.0,358.6 L372.9,352.3 L371.9,348.2 L370.8,344.0 L368.7,340.7 L366.4,339.6 L363.1,338.5Z" fill="#e07d9e" stroke="#1c1c1c" stroke-width="1.0"/>
<path d="M368.0,372.9 L365.9,378.0 L360.3,382.2 L360.3,390.8 L364.8,399.7 L369.3,396.0 L374.6,394.6 L381.8,396.8 L383.3,392.5 L397.1,388.3 L398.8,380.5 L398.8,376.3 L397.8,372.0 L394.6,367.8 L392.6,364.8 L392.6,361.0 L392.4,360.9 L389.9,363.4 L387.0,363.4 L383.0,362.9 L378.8,361.4 L375.1,361.4 L375.1,363.8 L373.1,367.8 L371.1,370.8Z" fill="#e07d9e" stroke="#1c1c1c" stroke-width="1.0"/>
<path d="M341.1,370.7 L336.9,383.7 L335.4,392.4 L345.4,396.7 L348.3,398.1 L355.4,396.7 L359.8,395.2 L361.2,390.8 L361.2,382.7 L366.7,378.6 L368.9,372.9 L362.4,370.7 L358.1,366.5 L353.7,367.1 L348.5,368.6 L344.4,370.7Z" fill="#e07d9e" stroke="#1c1c1c" stroke-width="1.0"/>
<path d="M364.3,399.0 L367.4,402.1 L370.1,406.2 L372.8,411.6 L374.1,416.9 L371.5,420.9 L368.5,426.9 L371.6,428.4 L375.3,430.9 L371.6,434.6 L366.9,437.7 L374.3,443.6 L379.8,449.1 L385.3,455.2 L388.4,460.6 L394.3,453.2 L400.2,447.3 L392.9,441.5 L388.9,437.6 L390.2,432.3 L391.7,425.2 L390.2,421.0 L388.9,415.5 L387.5,411.3 L384.7,403.0 L383.3,397.4 L381.8,395.9 L374.6,393.7 L368.9,395.1Z" fill="#e07d9e" stroke="#1c1c1c" stroke-width="1.0"/>
<path d="M589.8,484.1 L592.1,488.6 L594.2,491.7 L596.2,495.8 L598.4,499.0 L601.6,501.2 L605.9,502.3 L610.3,502.3 L612.5,499.0 L616.1,496.6 L612.5,494.2 L609.4,491.1 L606.4,488.1 L605.4,484.2 L607.1,480.9 L604.0,479.6 L598.7,480.1 L594.4,480.7Z" fill="#e07d9e" stroke="#1c1c1c" stroke-width="1.0"/>
<path d="M172.4,174.4 L176.2,179.6 L177.6,185.2 L181.8,188.1 L186.1,191.6 L189.5,191.0 L192.8,195.6 L197.2,202.1 L205.8,197.1 L214.5,191.3 L210.8,186.1 L209.5,182.0 L208.2,180.1 L210.1,177.0 L215.5,173.6 L218.4,172.1 L219.9,167.5 L213.5,161.8 L207.8,158.2 L204.8,158.2 L197.1,163.6 L187.5,169.3 L179.0,168.6 L178.3,172.2Z" fill="#d23467" stroke="#1c1c1c" stroke-width="1.0"/>
<path d="M75.4,224.4 L76.6,229.0 L77.7,232.3 L84.9,233.4 L85.8,236.1 L83.8,240.1 L82.7,244.4 L84.0,248.1 L88.3,246.4 L91.1,248.8 L93.1,252.7 L92.1,256.7 L91.0,261.3 L94.6,262.5 L100.9,261.4 L105.9,260.4 L111.1,263.5 L115.4,263.5 L119.8,261.3 L122.0,257.9 L121.0,252.7 L122.0,246.5 L123.0,241.3 L122.5,236.0 L120.9,231.8 L119.8,227.4 L113.3,226.8 L108.3,227.3 L105.2,224.3 L101.0,222.2 L94.7,221.1 L90.4,220.1 L87.1,221.2 L85.1,224.2 L82.2,223.2 L77.9,223.2Z" fill="#d23467" stroke="#1c1c1c" stroke-width="1.0"/>
<path d="M87.0,266.9 L85.9,269.0 L83.8,273.3 L83.8,280.5 L103.0,280.5 L108.2,279.0 L113.4,278.0 L117.7,276.9 L119.8,273.7 L123.9,271.7 L126.1,268.4 L128.2,264.2 L128.2,259.5 L123.6,259.5 L119.3,260.5 L115.2,262.6 L111.3,262.6 L106.1,259.4 L100.7,260.5 L94.6,261.5 L91.3,260.4 L89.1,263.8Z" fill="#d23467" stroke="#1c1c1c" stroke-width="1.0"/>
<path d="M185.5,189.1 L182.6,193.5 L179.7,196.4 L179.0,203.3 L174.2,208.8 L171.5,215.7 L167.3,221.2 L164.5,226.8 L162.6,232.0 L157.7,231.3 L156.1,235.4 L160.4,239.7 L163.1,246.5 L165.8,251.9 L164.4,255.4 L168.7,260.4 L171.0,263.1 L175.5,261.9 L178.4,259.7 L180.5,255.6 L184.6,252.2 L189.2,249.1 L184.8,246.1 L186.0,242.5 L189.9,240.5 L195.6,239.8 L197.1,236.9 L198.6,233.9 L197.2,228.2 L194.4,220.0 L193.0,211.8 L195.7,205.8 L198.7,200.7 L190.1,191.4Z" fill="#d23467" stroke="#1c1c1c" stroke-width="1.0"/>
<path d="M248.3,263.3 L248.3,265.9 L246.4,267.8 L242.2,270.4 L239.1,274.5 L234.1,277.6 L229.5,278.7 L230.8,281.3 L233.9,285.5 L237.1,289.8 L245.9,290.4 L248.1,285.5 L252.1,281.5 L258.1,280.5 L263.2,281.0 L267.5,281.6 L270.9,279.3 L274.2,268.4 L263.4,264.1 L256.2,263.0 L251.8,259.8Z" fill="#d23467" stroke="#1c1c1c" stroke-width="1.0"/>
<path d="M272.8,269.1 L270.7,278.5 L269.2,280.8 L272.7,285.8 L274.1,292.7 L276.8,296.7 L273.8,302.7 L273.9,302.9 L276.8,301.9 L280.3,299.8 L284.4,296.4 L291.0,295.7 L290.2,292.5 L292.2,287.1 L294.4,279.2 L285.8,274.1Z" fill="#d23467" stroke="#1c1c1c" stroke-width="1.0"/>
<path d="M320.4,303.2 L316.9,301.4 L316.7,301.6 L319.8,309.3 L320.8,310.4 L315.6,314.3 L314.2,318.6 L311.5,322.6 L308.8,326.0 L307.3,326.7 L304.6,333.7 L300.1,338.8 L298.6,342.7 L304.5,345.0 L310.3,347.9 L313.3,344.8 L317.0,337.5 L314.9,335.5 L317.0,331.5 L320.5,328.7 L321.9,323.2 L328.6,319.2 L336.8,315.8 L343.9,315.8 L346.1,312.0 L346.9,307.6 L344.0,301.9 L339.6,298.2 L331.0,301.1 L325.4,303.2 L322.9,305.7Z" fill="#d23467" stroke="#1c1c1c" stroke-width="1.0"/>
<path d="M355.6,320.6 L354.9,324.3 L357.1,328.8 L361.7,330.3 L365.7,327.1 L362.0,322.7 L358.9,316.5Z" fill="#d23467" stroke="#1c1c1c" stroke-width="1.0"/>
<path d="M526.5,404.1 L526.5,405.9 L525.2,411.3 L522.4,416.8 L520.9,421.4 L524.1,422.9 L528.4,423.7 L532.3,423.0 L534.9,425.5 L536.2,431.0 L539.3,435.6 L543.8,432.6 L548.1,430.4 L549.6,425.2 L546.7,418.2 L543.2,409.8 L538.2,406.9 L532.6,404.1Z" fill="#d23467" stroke="#1c1c1c" stroke-width="1.0"/>
<path d="M507.3,425.0 L504.5,429.2 L501.7,433.4 L499.4,439.5 L506.2,440.2 L511.6,441.6 L517.5,443.8 L519.8,439.3 L521.9,433.7 L524.8,427.9 L521.7,424.9 L517.5,423.5 L515.0,422.2 L514.2,416.1 L513.8,416.1 L511.4,420.9Z" fill="#d23467" stroke="#1c1c1c" stroke-width="1.0"/>
<path d="M485.6,422.1 L484.6,424.9 L481.6,426.9 L479.4,428.0 L478.3,431.5 L481.5,435.8 L482.7,440.6 L482.7,440.6 L485.1,438.2 L488.9,439.1 L493.0,442.2 L496.2,444.9 L499.8,444.3 L502.0,435.8 L504.0,431.7 L506.1,427.5 L508.1,423.4 L511.3,420.3 L512.4,415.7 L508.0,413.4 L504.0,410.4 L501.7,407.1 L497.3,408.7 L493.2,410.3 L487.9,410.8 L483.9,413.6 L485.0,418.1Z" fill="#d23467" stroke="#1c1c1c" stroke-width="1.0"/>
<path d="M177.8,259.0 L175.6,259.4 L175.6,259.4 L178.7,263.1 L180.8,266.2 L183.7,270.1 L180.5,274.3 L183.7,276.5 L182.8,281.5 L183.7,286.4 L171.7,292.4 L165.3,292.4 L164.1,296.0 L166.2,300.2 L165.1,305.3 L166.2,310.6 L169.5,315.4 L180.1,316.7 L185.6,323.4 L187.9,318.7 L193.0,316.7 L197.3,313.5 L200.4,308.3 L204.5,304.2 L209.6,301.2 L213.8,298.0 L220.2,289.6 L221.3,284.9 L217.9,283.8 L214.9,279.8 L212.4,275.7 L211.4,268.6 L211.9,263.7 L215.9,260.7 L220.1,257.7 L220.1,257.7 L215.8,255.8 L209.6,252.7 L204.9,249.9 L205.8,248.9 L201.0,247.3 L195.3,245.8 L188.2,248.7 L184.0,251.5 L179.8,255.0Z" fill="#d23467" stroke="#1c1c1c" stroke-width="1.0"/>
<path d="M207.6,318.6 L214.5,325.5 L220.0,332.4 L224.2,338.7 L229.8,342.2 L238.4,346.4 L242.7,343.5 L252.8,337.8 L251.3,334.8 L254.1,327.9 L248.1,316.1 L245.6,318.8 L240.8,313.9 L236.7,308.8 L232.6,304.7 L232.6,302.1 L232.6,302.1 L226.8,305.6 L221.6,307.6 L216.4,310.8 L211.2,316.0Z" fill="#d23467" stroke="#1c1c1c" stroke-width="1.0"/>
<path d="M278.9,348.4 L278.9,348.7 L285.1,351.8 L289.2,354.6 L293.3,358.6 L296.0,362.7 L298.7,369.6 L300.1,373.8 L304.3,379.4 L308.4,384.8 L309.8,391.8 L312.7,393.3 L317.2,397.0 L320.1,392.1 L322.6,393.4 L329.7,391.3 L333.6,390.6 L336.9,392.2 L336.9,387.5 L341.0,382.0 L342.5,374.9 L339.7,367.9 L338.3,362.3 L334.0,356.7 L328.4,352.4 L320.0,351.0 L313.1,349.6 L304.9,344.1 L299.1,342.0 L292.1,346.2 L285.3,346.9Z" fill="#d23467" stroke="#1c1c1c" stroke-width="1.0"/>
<path d="M362.8,326.3 L361.6,329.7 L362.7,331.9 L363.8,336.1 L365.9,340.4 L368.5,341.7 L370.8,338.2 L371.9,334.1 L375.1,330.8 L373.9,327.2 L369.5,326.1 L365.2,325.1Z" fill="#d23467" stroke="#1c1c1c" stroke-width="1.0"/>
<path d="M577.5,467.4 L578.1,469.9 L579.6,471.9 L579.6,474.5 L576.7,475.5 L574.0,478.2 L577.8,479.4 L580.9,480.5 L584.9,483.5 L587.2,486.4 L589.6,484.6 L591.7,483.6 L595.2,481.2 L592.9,477.8 L591.9,473.6 L589.7,470.4 L585.5,467.2 L581.1,465.6Z" fill="#d23467" stroke="#1c1c1c" stroke-width="1.0"/>
<path d="M604.4,484.1 L605.6,488.6 L608.7,491.8 L611.9,494.9 L615.3,497.2 L617.7,494.8 L620.1,491.3 L616.6,489.0 L612.5,484.9 L609.3,481.7 L606.3,480.5Z" fill="#d23467" stroke="#1c1c1c" stroke-width="1.0"/>
<path d="M96.6,295.6 L95.1,295.6 L95.1,299.6 L97.5,299.6 L99.4,301.6 L102.7,306.0 L106.2,303.7 L112.5,297.4 L116.6,293.3 L120.8,290.1 L122.0,286.6 L117.6,283.3 L113.3,281.6 L108.0,281.6 L102.5,283.3 L101.3,287.9 L103.3,290.9 L101.5,293.7 L98.5,295.1Z" fill="#d23467" stroke="#1c1c1c" stroke-width="1.0"/>
<path d="M55.6,187.7 L56.1,190.2 L58.7,192.8 L62.8,195.7 L64.1,196.6 L60.9,199.8 L62.7,202.6 L64.4,206.0 L66.1,207.7 L67.7,209.7 L69.6,212.1 L71.4,211.2 L73.4,211.8 L73.4,215.7 L74.7,220.0 L77.1,222.8 L79.6,222.0 L81.9,224.3 L85.6,226.6 L87.5,224.2 L89.1,221.1 L93.0,221.1 L97.3,220.2 L100.5,218.4 L100.0,214.7 L98.2,212.0 L94.9,210.3 L93.4,208.1 L94.6,201.6 L95.5,195.7 L94.1,190.2 L90.3,191.2 L84.6,192.8 L79.8,193.6 L76.6,192.0 L73.1,189.9 L69.8,190.7 L65.8,189.5 L61.7,187.5 L58.1,185.2Z" fill="#c00032" stroke="#1c1c1c" stroke-width="1.0"/>
<path d="M88.5,183.4 L93.4,191.0 L94.6,195.8 L93.8,201.5 L92.5,208.3 L94.3,211.0 L97.6,212.7 L99.2,215.0 L99.6,218.3 L100.1,219.0 L106.4,224.3 L112.9,227.5 L121.0,223.2 L125.8,219.1 L131.7,217.8 L136.0,220.7 L140.8,214.4 L136.2,212.1 L132.6,208.5 L130.9,209.2 L129.6,202.8 L126.9,197.3 L128.3,193.2 L126.7,190.1 L121.0,188.0 L114.1,187.3 L108.6,183.9 L98.8,179.2 L93.1,180.4Z" fill="#c00032" stroke="#1c1c1c" stroke-width="1.0"/>
<path d="M139.8,173.6 L135.8,182.3 L130.5,181.0 L128.3,182.1 L131.4,184.4 L129.9,189.5 L133.3,189.5 L134.5,189.4 L141.2,191.4 L145.9,196.8 L147.2,202.8 L145.9,208.9 L143.9,213.4 L139.2,214.2 L142.6,218.4 L148.1,220.4 L150.3,223.4 L155.4,221.9 L161.2,221.2 L162.0,217.2 L159.7,213.5 L156.3,211.2 L159.9,210.0 L159.1,205.9 L155.1,204.6 L155.7,200.7 L155.0,195.1 L153.0,189.7 L153.7,187.5 L153.1,184.5 L165.3,178.4 L172.9,175.4 L172.9,175.4 L169.5,172.8 L158.4,168.0 L150.5,161.5Z" fill="#c00032" stroke="#1c1c1c" stroke-width="1.0"/>
<path d="M152.8,187.5 L152.0,189.7 L154.1,195.3 L154.8,200.7 L154.1,205.2 L158.3,206.6 L158.9,209.4 L154.4,210.9 L154.4,211.0 L159.1,214.2 L161.0,217.4 L160.4,220.4 L155.2,221.0 L150.8,222.5 L148.5,225.6 L150.2,228.1 L155.0,228.8 L157.8,232.2 L163.2,233.0 L165.4,227.2 L168.1,221.7 L172.2,216.1 L175.0,209.3 L179.9,203.7 L180.6,196.8 L183.3,194.1 L185.8,190.2 L182.4,187.3 L178.4,184.7 L177.0,179.2 L173.2,174.0 L171.8,174.9 L164.9,177.6 L152.1,184.0Z" fill="#c00032" stroke="#1c1c1c" stroke-width="1.0"/>
<path d="M120.3,222.6 L120.3,228.4 L121.7,235.3 L120.3,249.1 L121.7,259.9 L127.8,260.5 L127.2,266.9 L124.3,272.7 L127.5,275.1 L138.8,273.7 L151.3,271.6 L161.0,267.5 L171.1,262.4 L169.4,259.9 L165.5,255.2 L166.8,251.8 L164.0,246.1 L161.2,239.2 L157.2,235.2 L158.5,231.7 L155.5,227.9 L150.7,227.3 L149.6,225.6 L151.0,222.8 L148.6,219.7 L143.1,217.6 L140.1,213.8 L135.8,219.5 L131.9,216.8 L125.4,218.3Z" fill="#c00032" stroke="#1c1c1c" stroke-width="1.0"/>
<path d="M236.9,288.9 L236.9,293.4 L234.9,298.5 L231.7,302.7 L231.7,305.1 L236.0,309.4 L240.1,314.5 L245.7,320.1 L247.9,317.7 L253.1,328.0 L250.3,334.9 L252.0,338.2 L257.8,336.0 L263.6,336.7 L265.0,330.9 L269.1,322.7 L274.0,317.6 L277.2,311.2 L276.1,304.8 L275.1,298.8 L277.2,293.5 L275.1,289.2 L274.1,284.0 L270.7,278.4 L267.3,280.6 L263.3,280.1 L258.1,279.6 L251.6,280.7 L247.3,285.0 L245.4,289.4Z" fill="#c00032" stroke="#1c1c1c" stroke-width="1.0"/>
<path d="M293.6,278.7 L291.4,286.8 L289.3,292.5 L290.0,295.5 L296.4,303.3 L300.9,303.3 L304.0,301.0 L305.4,292.6 L308.2,286.3 L306.6,283.2 L295.4,279.7Z" fill="#c00032" stroke="#1c1c1c" stroke-width="1.0"/>
<path d="M340.6,294.7 L338.9,298.9 L343.3,302.5 L346.1,308.2 L350.4,307.5 L353.0,309.4 L357.1,314.8 L358.4,317.6 L361.2,323.1 L365.1,327.9 L367.5,323.1 L368.9,319.0 L372.9,315.6 L378.3,310.9 L382.4,310.9 L387.4,309.3 L387.4,308.8 L378.3,306.6 L370.1,303.1 L364.5,300.4 L360.3,299.7 L350.6,297.6Z" fill="#c00032" stroke="#1c1c1c" stroke-width="1.0"/>
<path d="M321.1,322.6 L319.7,328.2 L316.2,331.0 L317.0,336.6 L323.1,334.4 L330.0,330.9 L335.6,328.8 L339.8,324.6 L343.4,320.3 L344.1,314.9 L336.6,314.9 L328.2,318.4Z" fill="#c00032" stroke="#1c1c1c" stroke-width="1.0"/>
<path d="M383.7,308.8 L383.7,314.8 L381.7,318.8 L379.5,325.9 L381.1,331.5 L384.4,329.0 L388.6,325.6 L392.8,321.3 L395.0,315.6 L394.2,310.3Z" fill="#c00032" stroke="#1c1c1c" stroke-width="1.0"/>
<path d="M508.7,366.5 L507.2,374.0 L503.1,380.9 L502.3,388.0 L504.5,393.0 L507.6,396.9 L510.0,394.5 L516.1,387.1 L519.8,387.7 L525.6,395.7 L528.9,390.7 L526.8,387.9 L528.7,384.8 L534.1,381.7 L534.1,381.7 L521.7,375.8Z" fill="#c00032" stroke="#1c1c1c" stroke-width="1.0"/>
<path d="M533.0,381.3 L528.0,384.2 L525.7,388.0 L527.8,390.7 L525.1,394.7 L525.1,401.2 L526.7,405.0 L532.4,405.0 L537.8,407.7 L542.5,410.4 L545.9,418.5 L548.6,425.3 L547.1,430.4 L550.6,431.3 L564.6,420.1 L571.5,413.9 L577.8,409.6 L578.6,403.1 L577.1,397.4 L572.8,392.4 L568.5,391.0 L562.8,391.7 L557.0,393.4 L560.0,388.7 L556.2,382.7 L545.0,383.4 L536.7,380.6Z" fill="#c00032" stroke="#1c1c1c" stroke-width="1.0"/>
<path d="M586.1,418.9 L584.6,425.1 L583.1,428.1 L586.0,431.1 L588.7,436.4 L587.3,441.8 L588.7,447.3 L585.8,451.6 L590.2,456.0 L594.4,458.8 L597.3,463.2 L603.0,459.0 L608.6,461.8 L612.9,456.0 L618.1,453.4 L620.9,456.2 L626.2,453.2 L626.9,446.5 L624.0,442.9 L610.1,431.8 L604.5,428.3 L597.6,426.2 L590.8,422.8Z" fill="#c00032" stroke="#1c1c1c" stroke-width="1.0"/>
<path d="M421.2,429.5 L422.4,434.7 L424.6,438.0 L427.7,439.1 L429.7,441.6 L433.1,443.8 L436.3,443.3 L440.2,444.3 L443.1,446.7 L444.1,450.0 L442.2,452.9 L439.2,454.3 L433.6,456.0 L434.9,459.8 L441.2,461.9 L445.4,465.1 L452.1,465.1 L454.2,461.8 L458.1,459.4 L462.3,459.9 L465.3,457.5 L464.7,454.1 L462.6,449.9 L460.5,446.3 L458.5,442.8 L459.5,439.9 L460.6,435.7 L460.6,431.6 L462.5,428.6 L464.8,425.8 L463.5,423.3 L459.9,422.7 L457.7,426.0 L456.3,428.4 L453.9,427.9 L449.7,428.4 L445.5,429.5 L441.4,431.0 L437.2,430.5 L435.0,432.1 L431.2,433.0 L428.2,431.1 L425.0,428.9Z" fill="#c00032" stroke="#1c1c1c" stroke-width="1.0"/>
<path d="M467.8,415.4 L470.2,417.9 L472.4,418.4 L476.0,419.6 L476.7,416.1 L472.7,415.0 L469.3,413.3Z" fill="#c00032" stroke="#1c1c1c" stroke-width="1.0"/>
<path d="M471.9,439.5 L473.7,443.1 L475.2,446.0 L474.2,448.8 L471.1,450.9 L470.0,454.4 L472.7,457.1 L475.0,452.4 L478.1,449.3 L479.2,444.9 L478.1,440.5 L475.8,438.2Z" fill="#c00032" stroke="#1c1c1c" stroke-width="1.0"/>
<path d="M468.5,461.5 L469.1,465.3 L469.6,469.4 L470.7,476.0 L476.6,476.0 L478.3,469.4 L477.7,464.9 L473.3,462.7Z" fill="#c00032" stroke="#1c1c1c" stroke-width="1.0"/>
<path d="M227.9,280.6 L224.6,282.8 L220.5,288.9 L219.5,288.9 L213.2,297.3 L209.1,300.4 L203.9,303.5 L199.7,307.8 L196.4,313.3 L199.8,316.7 L204.0,318.8 L207.4,319.9 L211.7,316.7 L216.9,311.5 L222.0,308.4 L227.2,306.4 L232.5,303.2 L235.7,298.9 L237.8,293.6 L237.8,289.2 L234.6,285.0 L231.4,280.6Z" fill="#c00032" stroke="#1c1c1c" stroke-width="1.0"/>
<path d="M480.4,363.6 L478.4,366.7 L476.3,370.9 L475.2,376.4 L478.2,379.4 L476.4,382.2 L472.4,385.1 L466.5,384.1 L462.2,382.0 L459.4,383.3 L461.8,386.9 L463.9,391.1 L467.3,393.3 L470.6,392.2 L474.7,390.2 L480.7,391.2 L485.9,392.2 L491.0,394.3 L495.2,396.4 L499.5,397.5 L506.4,396.3 L504.1,391.7 L503.0,386.6 L504.1,381.6 L507.1,376.5 L509.2,371.2 L510.4,367.7 L493.4,363.4 L481.6,360.2Z" fill="#c00032" stroke="#1c1c1c" stroke-width="1.0"/>
<path d="M88.7,159.8 L87.9,164.3 L89.3,168.4 L88.6,172.9 L96.1,173.7 L103.4,170.0 L101.1,162.2 L97.5,163.7 L94.3,161.1 L92.0,157.3Z" fill="#ffffff" stroke="#1c1c1c" stroke-width="1.0"/>
<path d="M102.4,169.8 L104.3,171.8 L108.8,167.3 L114.4,160.3 L115.2,157.7 L111.1,156.1 L105.3,162.6Z" fill="#ffffff" stroke="#1c1c1c" stroke-width="1.0"/>
<path d="M592.1,434.8 L592.9,441.9 L593.6,447.6 L597.5,450.7 L600.7,447.5 L597.9,440.4 L597.2,434.8 L594.7,431.4Z" fill="#fdbfc6" stroke="#1c1c1c" stroke-width="1.0"/>
<path d="M173.1,140.4 L180.7,142.1 L189.3,140.7" fill="none" stroke="#1c1c1c" stroke-width="1.0"/>
<path d="M349.2,331.2 L350.5,340.0" fill="none" stroke="#1c1c1c" stroke-width="1.0"/>
<path d="M361.6,329.8 L363.0,334.0" fill="none" stroke="#1c1c1c" stroke-width="1.0"/>
<path d="M335.3,328.4 L336.7,340.0" fill="none" stroke="#1c1c1c" stroke-width="1.0"/>
<path d="M329.8,330.5 L335.3,336.7 L336.7,340.0" fill="none" stroke="#1c1c1c" stroke-width="1.0"/>
<path d="M451.4,460.6 L453.5,459.5 L458.7,460.1 L461.2,462.1 L461.8,465.2 L460.7,467.8" fill="none" stroke="#1c1c1c" stroke-width="1.0"/>
<path d="M461.2,462.1 L464.9,460.1 L466.9,458.0" fill="none" stroke="#1c1c1c" stroke-width="1.0"/>
<path d="M464.9,460.1 L468.0,464.2 L469.5,465.2" fill="none" stroke="#1c1c1c" stroke-width="1.0"/>
<path d="M644.7,562.3 L647.2,565.6 L649.7,568.9 L651.3,573.9" fill="none" stroke="#1c1c1c" stroke-width="1.0"/>
<path d="M591.5,534.8 L594.8,536.4 L598.1,536.4 L599.7,539.7 L603.1,540.6 L607.2,539.7" fill="none" stroke="#1c1c1c" stroke-width="1.0"/>
<path d="M598.1,536.4 L600.6,532.3" fill="none" stroke="#1c1c1c" stroke-width="1.0"/>
<path d="M593.1,543.9 L594.8,540.6 L599.7,539.7" fill="none" stroke="#1c1c1c" stroke-width="1.0"/>
<path d="M596.4,543.1 L597.3,548.0 L599.7,551.3" fill="none" stroke="#1c1c1c" stroke-width="1.0"/>
<path d="M603.1,544.7 L603.1,550.0" fill="none" stroke="#1c1c1c" stroke-width="1.0"/>
<path d="M595.6,463.5 L596.6,467.6 L599.7,474.9" fill="none" stroke="#1c1c1c" stroke-width="1.0"/>
<path d="M598.7,461.4 L600.8,466.6 L602.8,470.7" fill="none" stroke="#1c1c1c" stroke-width="1.0"/>
</g>
<path d="M59.1,147.6 L72.5,148.6 L84.9,148.3 L93.2,147.4 L97.4,149.3 L108.4,149.0 L122.2,146.3 L134.7,142.8 L140.2,141.0 L147.1,142.1 L158.2,141.4 L172.0,139.1 L173.8,139.3 L190.4,136.3 L202.8,132.2 L208.4,130.8 L215.3,131.3 L219.4,133.8 L222.9,136.6 L227.7,137.3 L231.8,140.7 L234.6,142.8 L235.3,147.6 L237.4,153.2 L239.0,158.7 L238.5,165.6 L235.3,170.4 L233.2,172.2 L229.1,177.3 L220.8,184.2 L217.3,189.1 L213.9,191.2 L205.6,196.7 L197.3,201.5 L195.3,205.6 L192.6,211.8 L194.0,220.1 L196.7,228.4 L198.1,233.9 L202.2,239.4 L209.2,244.9 L218.8,249.1 L229.9,253.2 L238.2,256.0 L249.2,261.5 L260.0,267.0 L262.1,266.9 L273.2,271.1 L285.6,275.6 L295.3,280.8 L306.3,284.2 L316.0,288.4 L324.3,291.1 L331.2,291.8 L340.9,296.0 L350.5,298.7 L360.2,300.8 L364.4,301.5 L369.9,304.2 L378.2,307.7 L386.5,309.8 L393.4,310.5 L400.0,311.8 L404.9,314.2 L413.9,319.7 L418.7,320.4 L425.6,325.9 L435.3,330.8 L442.2,335.6 L447.7,340.4 L451.8,344.6 L457.4,347.3 L462.9,350.8 L469.8,355.6 L475.3,359.8 L480.9,362.5 L490.5,365.3 L500.2,368.1 L509.9,370.1 L518.2,372.9 L526.5,377.0 L533.4,380.5 L540.0,384.0 L544.9,384.5 L554.5,385.2 L557.3,384.5 L559.4,388.7 L558.1,391.5 L556.1,393.9 L557.6,394.5 L561.7,392.3 L565.9,390.9 L568.4,391.5 L572.5,392.8 L569.7,393.5 L572.5,397.7 L576.6,402.5 L576.0,408.0 L576.6,410.8 L582.2,414.2 L586.3,419.1 L593.2,422.5 L600.1,426.0 L607.0,428.8 L614.0,434.3 L619.5,439.1 L625.7,445.3 L629.2,448.1 L631.9,450.0 L634.6,452.1 L639.4,456.9 L645.7,461.1 L649.8,464.5 L651.9,469.4 L655.3,474.2 L658.1,479.1 L659.5,484.6 L662.9,490.8 L665.0,495.6 L668.5,499.1 L669.8,503.2 L667.8,508.0 L665.0,510.7 L663.7,515.6 L663.0,520.4 L658.8,523.9 L657.4,529.4 L654.7,531.5 L654.0,537.0 L653.3,545.3 L654.0,552.2 L654.7,559.1 L653.3,564.6 L654.0,569.4 L654.7,571.5 L651.9,575.7 L647.8,577.7 L645.0,576.4 L642.2,572.9 L636.7,570.1 L629.8,569.4 L622.9,568.8 L616.0,566.7 L609.1,561.8 L600.8,556.3 L595.3,552.9 L589.7,548.0 L586.3,543.2 L582.8,539.7 L581.5,537.7 L584.2,535.6 L585.6,531.5 L582.8,528.7 L580.1,525.2 L581.5,521.1 L582.1,516.3 L580.1,512.1 L575.9,506.6 L571.8,502.4 L567.6,498.3 L564.2,492.8 L563.5,490.0 L562.3,482.9 L556.8,479.4 L549.9,476.0 L541.6,475.3 L534.7,474.6 L526.4,475.3 L516.7,475.3 L508.4,476.0 L500.1,477.4 L491.8,478.8 L484.9,475.3 L478.0,472.5 L472.5,471.8 L467.0,469.1 L460.1,465.6 L451.8,462.9 L444.9,460.1 L438.0,457.3 L436.6,455.3 L440.7,452.5 L442.8,448.4 L440.7,444.2 L435.2,442.1 L431.1,440.1 L426.9,437.3 L422.8,434.5 L423.0,436.1 L415.5,435.6 L410.4,436.1 L405.2,438.2 L399.5,442.5 L394.0,447.4 L388.4,454.3 L382.9,461.9 L379.4,466.0 L376.0,465.3 L371.8,461.2 L369.1,455.7 L364.9,453.6 L359.4,452.9 L353.9,450.1 L352.5,447.4 L355.3,443.2 L352.5,437.7 L350.4,432.2 L349.1,425.3 L351.1,422.5 L348.4,418.4 L347.7,412.8 L348.4,407.3 L347.7,403.2 L344.2,400.4 L348.4,397.6 L345.6,396.3 L336.5,391.5 L333.7,390.1 L329.6,390.8 L322.6,392.9 L319.9,391.5 L317.1,396.4 L313.0,392.9 L310.2,391.5 L308.8,394.3 L306.1,399.8 L300.5,404.0 L296.4,405.3 L292.2,401.9 L286.7,397.0 L279.8,391.5 L272.9,386.0 L267.4,380.5 L263.2,374.9 L260.5,368.0 L259.1,363.9 L257.0,358.4 L250.8,359.1 L248.0,359.7 L242.5,364.6 L237.0,360.4 L228.7,357.0 L221.8,354.9 L216.3,351.5 L221.8,349.4 L225.2,344.5 L224.5,338.3 L220.4,332.1 L217.6,330.7 L214.9,325.2 L211.4,322.4 L208.0,318.3 L201.1,315.5 L195.5,316.9 L190.0,318.3 L185.7,320.5 L184.4,324.6 L180.2,326.7 L174.7,325.3 L170.5,327.4 L165.0,328.1 L159.5,327.4 L154.0,327.4 L145.7,328.8 L142.9,332.9 L141.5,337.0 L137.4,336.4 L129.1,334.3 L122.2,331.5 L118.0,328.8 L115.3,330.1 L112.5,332.9 L108.4,331.5 L102.8,330.1 L98.7,332.2 L94.5,329.4 L93.2,326.0 L87.6,321.8 L83.5,318.4 L84.9,313.6 L89.7,309.4 L91.1,308.0 L89.0,303.9 L88.3,301.1 L93.2,299.1 L91.8,295.6 L86.3,293.5 L83.5,291.5 L80.7,290.1 L75.2,290.8 L70.4,291.5 L68.3,287.3 L67.6,283.9 L64.1,283.2 L60.0,282.5 L58.0,280.5 L55.2,274.9 L55.9,270.8 L60.1,268.7 L59.4,265.3 L60.8,261.1 L57.3,257.7 L51.8,255.6 L47.6,251.5 L46.9,245.9 L43.5,243.2 L38.0,239.7 L33.8,240.4 L31.7,237.6 L32.4,233.5 L33.1,228.0 L31.2,221.5 L29.5,218.5 L31.6,215.6 L33.3,212.3 L36.6,213.2 L39.9,214.8 L42.4,216.5 L44.9,214.8 L45.7,213.2 L48.2,211.5 L49.0,208.6 L53.2,206.5 L54.8,204.0 L56.5,203.2 L59.0,200.7 L61.5,199.1 L64.8,196.6 L63.1,195.3 L59.0,192.4 L56.5,189.9 L56.1,187.9 L57.3,185.8 L54.8,183.3 L55.6,180.0 L56.2,184.9 L55.6,182.2 L57.0,175.3 L54.5,168.4 L56.2,164.2 L60.1,160.1 L58.0,149.0Z" fill="none" stroke="#1c1c1c" stroke-width="1.2"/>
<path d="M425.0,449.4 L427.8,448.1 L429.9,449.9 L427.8,451.5Z" fill="#c00032" stroke="#1c1c1c" stroke-width="0.6"/>
<path d="M429.9,451.8 L432.4,451.5 L432.9,452.9 L430.6,453.3Z" fill="#c00032" stroke="#1c1c1c" stroke-width="0.6"/>
<path d="M571.7,525.8 L573.2,525.5 L573.9,526.8 L572.4,527.5Z" fill="#1c1c1c" stroke="#1c1c1c" stroke-width="0.6"/>
<path d="M576.4,524.2 L578.0,523.2 L579.0,523.8 L577.4,525.2Z" fill="#1c1c1c" stroke="#1c1c1c" stroke-width="0.6"/>
<path d="M424.7,410.2 L427.2,409.7 L427.8,413.3 L425.4,414.0Z" fill="#1c1c1c" stroke="#1c1c1c" stroke-width="0.6"/>
</g>
</g>
<g id="titolo">
<text x="41.25" y="58.40" font-size="27.75" font-weight="700" fill="#161616" stroke="#161616" stroke-width="0.5" textLength="168.99" lengthAdjust="spacingAndGlyphs">MAPPA DEGLI</text>
<text x="41.90" y="90.60" font-size="27.75" font-weight="700" fill="#161616" stroke="#161616" stroke-width="0.5" textLength="298.40" lengthAdjust="spacingAndGlyphs">ATTUALMENTE POSITIVI</text>
</g>
<g id="torta">
<circle cx="522.2" cy="138.75" r="116.25" fill="#cb2f5e"/>
<path d="M522.2,138.75 L522.2,22.5 A116.25,116.25 0 1 1 513.44,254.67 Z" fill="#63323a"/>
<text x="416.38" y="149.00" font-size="35.65" font-weight="700" fill="#f6f1f1" textLength="94.78" lengthAdjust="spacingAndGlyphs">48,8%</text>
<text x="532.30" y="153.50" font-size="35.65" font-weight="700" fill="#f6f1f1" textLength="95.47" lengthAdjust="spacingAndGlyphs">51,2%</text>
<text x="427.34" y="178.70" font-size="20.72" font-weight="400" fill="#f6f1f1" stroke="#f6f1f1" stroke-width="0.3" textLength="84.16" lengthAdjust="spacingAndGlyphs">Femmine</text>
<text x="537.37" y="178.70" font-size="20.72" font-weight="400" fill="#f6f1f1" stroke="#f6f1f1" stroke-width="0.3" textLength="62.76" lengthAdjust="spacingAndGlyphs">Maschi</text>
</g>
<g id="tabella">
<text x="885.09" y="87.10" font-size="17.39" font-weight="400" fill="#1c1c1c" textLength="65.22" lengthAdjust="spacingAndGlyphs">Numero</text>
<text x="846.80" y="109.20" font-size="17.39" font-weight="400" fill="#1c1c1c" textLength="142.99" lengthAdjust="spacingAndGlyphs">di casi confermati</text>
<text x="865.68" y="131.90" font-size="17.39" font-weight="400" fill="#1c1c1c" textLength="103.88" lengthAdjust="spacingAndGlyphs">per provincia</text>
<text x="1024.13" y="87.10" font-size="17.39" font-weight="400" fill="#1c1c1c" textLength="76.80" lengthAdjust="spacingAndGlyphs">Incidenza</text>
<text x="1011.40" y="109.20" font-size="17.39" font-weight="400" fill="#1c1c1c" textLength="104.32" lengthAdjust="spacingAndGlyphs">cumulata per</text>
<text x="1003.60" y="131.90" font-size="17.39" font-weight="400" fill="#1c1c1c" textLength="118.84" lengthAdjust="spacingAndGlyphs">10.000 abitanti</text>
<path d="M711,153.3 H1136 M711,497.3 H1136" stroke="#4d4d4d" stroke-width="2" stroke-dasharray="2 4.9" fill="none"/>
<text x="714.40" y="187.40" font-size="23.48" font-weight="400" fill="#151515" textLength="43.08" lengthAdjust="spacingAndGlyphs">Bari</text>
<text x="906.27" y="187.40" font-size="23.48" font-weight="400" fill="#c4134b" textLength="53.73" lengthAdjust="spacingAndGlyphs">1.322</text>
<text x="1035.17" y="187.40" font-size="23.48" font-weight="400" fill="#c4134b" textLength="41.80" lengthAdjust="spacingAndGlyphs">10,6</text>
<text x="714.36" y="229.80" font-size="23.48" font-weight="400" fill="#151515" textLength="81.35" lengthAdjust="spacingAndGlyphs">Brindisi</text>
<text x="913.56" y="229.80" font-size="23.48" font-weight="400" fill="#c4134b" textLength="39.04" lengthAdjust="spacingAndGlyphs">582</text>
<text x="1035.19" y="229.80" font-size="23.48" font-weight="400" fill="#c4134b" textLength="41.14" lengthAdjust="spacingAndGlyphs">14,8</text>
<text x="714.40" y="272.60" font-size="23.48" font-weight="400" fill="#151515" textLength="40.78" lengthAdjust="spacingAndGlyphs">BAT</text>
<text x="914.27" y="272.60" font-size="23.48" font-weight="400" fill="#c4134b" textLength="37.38" lengthAdjust="spacingAndGlyphs">379</text>
<text x="1040.07" y="272.60" font-size="23.48" font-weight="400" fill="#c4134b" textLength="31.88" lengthAdjust="spacingAndGlyphs">9,7</text>
<text x="714.40" y="315.60" font-size="23.48" font-weight="400" fill="#151515" textLength="70.40" lengthAdjust="spacingAndGlyphs">Foggia</text>
<text x="906.28" y="315.60" font-size="23.48" font-weight="400" fill="#c4134b" textLength="53.49" lengthAdjust="spacingAndGlyphs">1.068</text>
<text x="1035.85" y="315.60" font-size="23.48" font-weight="400" fill="#c4134b" textLength="39.65" lengthAdjust="spacingAndGlyphs">17,2</text>
<text x="714.40" y="357.80" font-size="23.48" font-weight="400" fill="#151515" textLength="65.29" lengthAdjust="spacingAndGlyphs">Lecce</text>
<text x="914.16" y="357.80" font-size="23.48" font-weight="400" fill="#c4134b" textLength="39.37" lengthAdjust="spacingAndGlyphs">497</text>
<text x="1039.65" y="357.80" font-size="23.48" font-weight="400" fill="#c4134b" textLength="32.23" lengthAdjust="spacingAndGlyphs">6,3</text>
<text x="715.85" y="400.30" font-size="23.48" font-weight="400" fill="#151515" textLength="81.01" lengthAdjust="spacingAndGlyphs">Taranto</text>
<text x="914.23" y="400.30" font-size="23.48" font-weight="400" fill="#c4134b" textLength="38.07" lengthAdjust="spacingAndGlyphs">263</text>
<text x="1039.65" y="400.30" font-size="23.48" font-weight="400" fill="#c4134b" textLength="33.13" lengthAdjust="spacingAndGlyphs">4,6</text>
<text x="714.40" y="442.70" font-size="23.48" font-weight="400" fill="#151515" textLength="145.80" lengthAdjust="spacingAndGlyphs">Fuori Regione</text>
<text x="919.96" y="442.70" font-size="23.48" font-weight="400" fill="#c4134b" textLength="26.79" lengthAdjust="spacingAndGlyphs">29</text>
<text x="1049.98" y="440.70" font-size="23.48" font-weight="400" fill="#c4134b" textLength="11.28" lengthAdjust="spacingAndGlyphs">-</text>
<text x="714.35" y="485.30" font-size="23.48" font-weight="400" fill="#151515" textLength="140.21" lengthAdjust="spacingAndGlyphs">Non attribuiti</text>
<text x="926.89" y="485.30" font-size="23.48" font-weight="400" fill="#c4134b" textLength="12.40" lengthAdjust="spacingAndGlyphs">4</text>
<text x="1049.98" y="483.50" font-size="23.48" font-weight="400" fill="#c4134b" textLength="11.28" lengthAdjust="spacingAndGlyphs">-</text>
<text x="716.09" y="527.60" font-size="23.48" font-weight="700" fill="#151515" stroke="#151515" stroke-width="0.3" textLength="75.78" lengthAdjust="spacingAndGlyphs">Totale</text>
<text x="903.74" y="527.60" font-size="23.48" font-weight="700" fill="#c4134b" stroke="#c4134b" stroke-width="0.3" textLength="58.02" lengthAdjust="spacingAndGlyphs">4.144</text>
<text x="1034.72" y="527.60" font-size="23.48" font-weight="700" fill="#c4134b" stroke="#c4134b" stroke-width="0.3" textLength="42.14" lengthAdjust="spacingAndGlyphs">10,3</text>
</g>
<g id="legenda">
<rect x="48.4" y="441.2" width="45.8" height="21.6" rx="10.8" fill="#fde5de" stroke="#5a5a5a" stroke-width="0.7"/><rect x="48.4" y="474.0" width="45.8" height="21.6" rx="10.8" fill="#fdbfc6" stroke="#5a5a5a" stroke-width="0.7"/><rect x="48.4" y="507.4" width="45.8" height="21.6" rx="10.8" fill="#e07d9e" stroke="#5a5a5a" stroke-width="0.7"/><rect x="183.4" y="441.2" width="45.8" height="21.6" rx="10.8" fill="#d23467" stroke="#5a5a5a" stroke-width="0.7"/><rect x="183.4" y="474.0" width="45.8" height="21.6" rx="10.8" fill="#bd0034" stroke="#5a5a5a" stroke-width="0.7"/><rect x="183.4" y="507.4" width="45.8" height="21.6" rx="10.8" fill="#ffffff" stroke="#5a5a5a" stroke-width="0.7"/>
<text x="103.17" y="456.00" font-size="20.72" font-weight="400" fill="#151515" textLength="26.96" lengthAdjust="spacingAndGlyphs">1-5</text>
<text x="103.60" y="496.70" font-size="20.72" font-weight="400" fill="#151515" textLength="37.64" lengthAdjust="spacingAndGlyphs">6-10</text>
<text x="103.90" y="529.80" font-size="20.72" font-weight="400" fill="#151515" textLength="45.24" lengthAdjust="spacingAndGlyphs">11-20</text>
<text x="238.70" y="456.00" font-size="20.72" font-weight="400" fill="#151515" textLength="48.31" lengthAdjust="spacingAndGlyphs">21-50</text>
<text x="238.68" y="496.70" font-size="20.72" font-weight="400" fill="#151515" textLength="32.18" lengthAdjust="spacingAndGlyphs">&gt; 51</text>
<text x="239.20" y="529.80" font-size="20.72" font-weight="400" fill="#151515" textLength="163.49" lengthAdjust="spacingAndGlyphs">comuni senza casi</text>
</g>
<g id="footer">
<text x="107.51" y="666.90" font-size="21.88" font-weight="700" fill="#2a2e3d" stroke="#2a2e3d" stroke-width="0.5" textLength="87.66" lengthAdjust="spacingAndGlyphs">REGIONE</text>
<text x="107.49" y="688.80" font-size="21.88" font-weight="700" fill="#2a2e3d" stroke="#2a2e3d" stroke-width="0.5" textLength="73.13" lengthAdjust="spacingAndGlyphs">PUGLIA</text>
<text x="300.70" y="675.60" font-size="26.52" font-weight="700" fill="#666769" stroke="#666769" stroke-width="0.3" textLength="83.05" lengthAdjust="spacingAndGlyphs">Puglia</text>
<text x="388.36" y="675.60" font-size="26.52" font-weight="400" fill="#a2a2a2" textLength="78.58" lengthAdjust="spacingAndGlyphs">Salute</text>
<text x="584.69" y="645.10" font-size="11.01" font-weight="400" fill="#4a4a4a" textLength="37.99" lengthAdjust="spacingAndGlyphs">Agenzia</text>
<text x="583.90" y="656.50" font-size="11.01" font-weight="400" fill="#4a4a4a" textLength="48.27" lengthAdjust="spacingAndGlyphs">Regionale</text>
<text x="584.20" y="667.70" font-size="11.01" font-weight="400" fill="#4a4a4a" textLength="59.55" lengthAdjust="spacingAndGlyphs">per la Salute</text>
<text x="584.38" y="678.90" font-size="11.01" font-weight="400" fill="#4a4a4a" textLength="56.96" lengthAdjust="spacingAndGlyphs">ed il Sociale</text>
<text x="584.23" y="689.50" font-size="11.01" font-weight="700" fill="#b30c14" textLength="29.97" lengthAdjust="spacingAndGlyphs">Puglia</text>
<text x="972.55" y="662.60" font-size="21.88" font-weight="700" fill="#1a1a1a" stroke="#1a1a1a" stroke-width="0.25" textLength="146.57" lengthAdjust="spacingAndGlyphs">3 maggio 2020</text>
<text x="857.64" y="691.50" font-size="21.59" font-weight="400" fill="#1a1a1a" textLength="261.39" lengthAdjust="spacingAndGlyphs">Aggiornamento delle 16:30</text>
<g id="regione"><ellipse cx="76.62" cy="639.06" rx="15" ry="5.3" fill="#e2a820"/><ellipse cx="76.62" cy="641.16" rx="11.8" ry="2.3" fill="#f4f1ea"/><circle cx="67.62" cy="636.79" r="1.1" fill="#2c7f86"/><circle cx="72.12" cy="636.48" r="1.1" fill="#2c7f86"/><circle cx="76.62" cy="636.16" r="1.1" fill="#2c7f86"/><circle cx="81.12" cy="636.48" r="1.1" fill="#2c7f86"/><circle cx="85.62" cy="636.79" r="1.1" fill="#2c7f86"/><path d="M56.92,647.38 H95.69 V690.85 Q95.69,693.85 92.69,693.85 H78.51 L76.31,696.45 L74.11,693.85 H59.92 Q56.92,693.85 56.92,690.85 Z" fill="#1a94d4"/><rect x="56.92" y="647.38" width="38.77" height="9.54" fill="#f2b61c"/><circle cx="62.62" cy="652.15" r="1.9" fill="#0f8a5c"/><circle cx="68.08" cy="652.15" r="1.9" fill="#0f8a5c"/><circle cx="73.54" cy="652.15" r="1.9" fill="#0f8a5c"/><circle cx="79.00" cy="652.15" r="1.9" fill="#0f8a5c"/><circle cx="84.46" cy="652.15" r="1.9" fill="#0f8a5c"/><circle cx="89.92" cy="652.15" r="1.9" fill="#0f8a5c"/><path d="M66.41,656.83 L86.21,656.83 L95.61,666.23 L95.61,684.23 L86.21,693.63 L66.41,693.63 L57.01,684.23 L57.01,666.23Z" fill="#ec0f17"/><path d="M73.31,693.23 L79.31,693.23 L76.31,696.43Z" fill="#ec0f17"/><path d="M69.51,661.43 L83.11,661.43 L90.51,668.83 L90.51,681.63 L83.11,689.03 L69.51,689.03 L62.11,681.63 L62.11,668.83Z" fill="#eef0f2"/><ellipse cx="76.01" cy="668.23" rx="7.6" ry="5.6" fill="#3f4c42"/><ellipse cx="72.81" cy="671.03" rx="4.2" ry="2.6" fill="#4a5a4c"/><ellipse cx="80.11" cy="670.23" rx="3.8" ry="2.6" fill="#46564a"/><path d="M75.41,672.23 L77.21,672.23 L77.41,682.23 L80.91,684.83 L77.81,684.23 L76.31,685.43 L74.81,684.23 L71.71,684.83 L75.21,682.23 Z" fill="#c9a61e"/></g>
<g id="pugliasalute"><path d="M242.60,642.31 L248.98,635.93 L248.98,642.31Z M249.24,642.28 L255.62,635.90 L261.99,635.90 L255.62,642.28Z M262.29,636.00 L268.67,642.38 L268.67,648.75 L262.29,642.38Z M268.83,635.93 L275.21,642.31 L268.83,642.31Z M242.57,642.57 L248.94,648.95 L248.94,655.33 L242.57,648.95Z M249.24,648.85 L255.62,642.47 L261.99,642.47 L255.62,648.85Z M268.86,648.95 L275.24,642.57 L275.24,648.95 L268.86,655.33Z M275.40,649.08 L281.78,655.46 L275.40,655.46Z M282.01,649.15 L288.39,655.52 L288.39,661.90 L282.01,655.52Z M229.51,655.43 L235.89,649.05 L242.27,649.05 L235.89,655.43Z M236.09,655.62 L242.47,655.62 L248.84,662.00 L242.47,662.00Z M249.14,655.52 L255.52,649.15 L255.52,655.52 L249.14,661.90Z M255.81,649.05 L262.19,649.05 L268.57,655.43 L262.19,655.43Z M262.39,662.00 L268.76,655.62 L275.14,655.62 L268.76,662.00Z M255.68,655.66 L262.06,662.03 L255.68,662.03Z M229.42,662.10 L235.79,655.72 L235.79,662.10 L229.42,668.48Z M235.99,662.30 L242.37,668.67 L242.37,675.05 L235.99,668.67Z M242.60,668.61 L248.98,662.23 L248.98,668.61Z M249.24,662.20 L255.62,662.20 L261.99,668.57 L255.62,668.57Z M268.86,662.30 L275.24,668.67 L275.24,675.05 L268.86,668.67Z M275.44,662.10 L281.81,655.72 L281.81,662.10 L275.44,668.48Z M281.98,662.16 L288.36,662.16 L281.98,668.54Z M275.54,675.15 L281.91,668.77 L288.29,668.77 L281.91,675.15Z M229.45,675.18 L235.83,668.80 L235.83,675.18Z M236.09,675.35 L242.47,675.35 L248.84,681.72 L242.47,681.72Z M262.32,681.76 L268.70,675.38 L268.70,681.76Z M268.96,675.35 L275.34,675.35 L281.72,681.72 L275.34,681.72Z " fill="#d47f8d"/><path d="M246.04,670.61 L249.33,668.19 L256.87,675.25 L265.77,664.81 L268.67,667.90 L262.29,675.44 L262.29,687.04 L268.67,693.81 L249.33,693.81 L255.71,687.04 L255.71,679.50Z" fill="#d47f8d"/></g>
<g id="aress"><rect x="508.46" y="632.62" width="64.62" height="64.31" rx="1.2" fill="#b30c14"/><path d="M506.92,639.69 L519.23,632.00 L540.00,632.00 L534.31,640.00 L540.77,644.62 L551.54,650.77 L562.31,658.46 L573.85,668.00 L573.85,675.69 L563.85,670.77 L554.62,663.85 L543.85,657.69 L533.08,653.85 L520.77,651.23 L506.92,650.15Z" fill="#f5f6f8"/></g>
<text x="512.68" y="693.50" font-size="35.65" font-weight="700" fill="#ffffff" textLength="45.24" lengthAdjust="spacingAndGlyphs">AReSS</text>
</g>
</svg>
</body></html>
